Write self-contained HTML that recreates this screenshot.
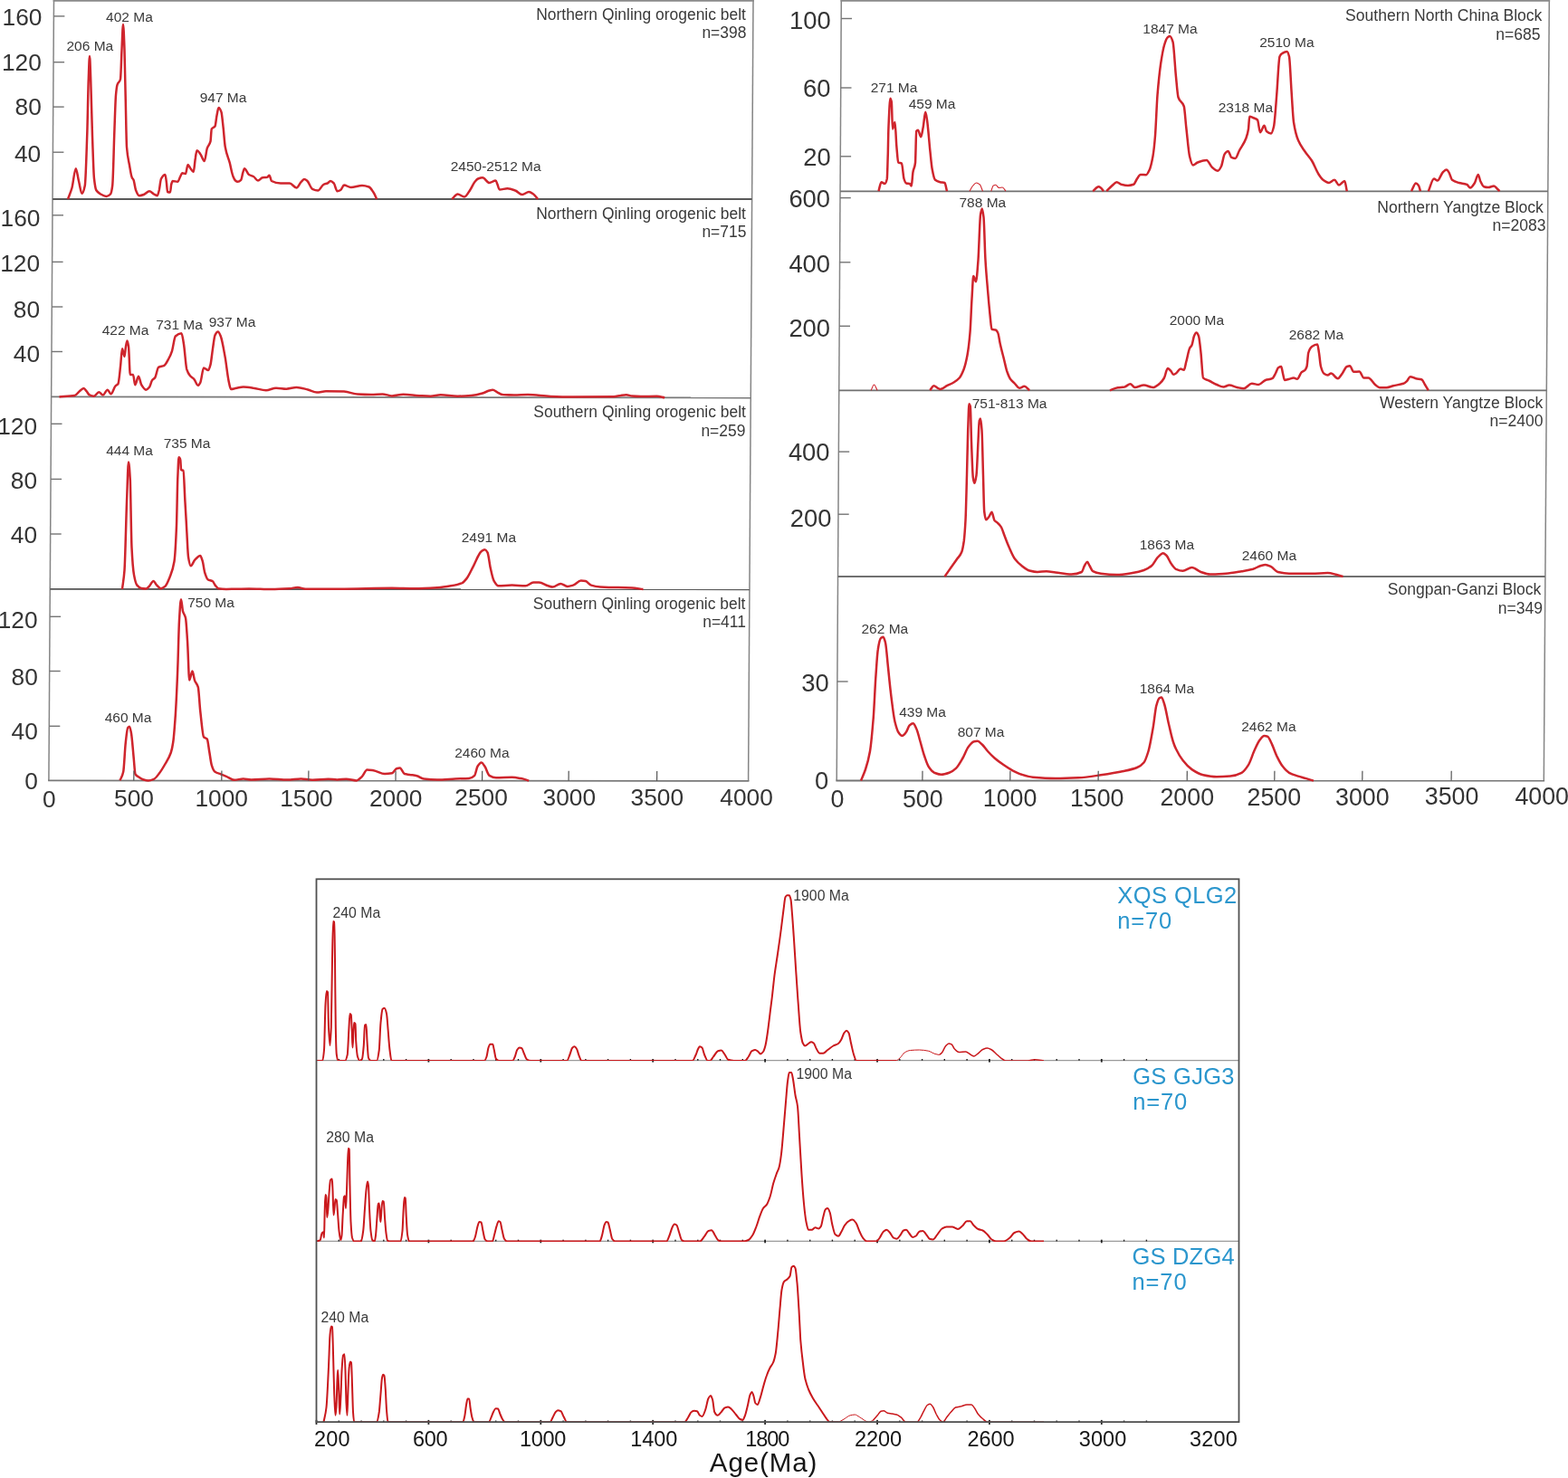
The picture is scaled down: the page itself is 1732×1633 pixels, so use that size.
<!DOCTYPE html>
<html lang="en"><head><meta charset="utf-8"><title>Detrital zircon age spectra</title>
<style>
html,body{margin:0;padding:0;background:#fff;}
svg{display:block;}
text{font-family:"Liberation Sans",sans-serif;}
.tk{fill:#343434;}
.pk{font-size:15.5px;fill:#3a3a3a;}
.tt{fill:#3a3a3a;}
.bt{font-size:23.5px;fill:#161616;}
.bl{font-size:25.5px;fill:#2b96cd;}
.ax{font-size:29.5px;fill:#161616;}
.c{fill:none;stroke-linejoin:round;stroke-linecap:butt;}
</style></head><body>
<svg width="1732" height="1633" viewBox="0 0 1732 1633">
<rect x="0" y="0" width="1732" height="1633" fill="#fff"/>
<g id="left">
<g stroke="#858585" stroke-width="1.5" fill="none">
<line x1="59.5" y1="0.0" x2="53.9" y2="862.4"/>
<line x1="832.0" y1="0.0" x2="826.6" y2="863.0"/>
</g>
<g stroke="#747474" stroke-width="1.4" fill="none">
<line x1="59.4" y1="17.9" x2="71.4" y2="17.9"/>
<line x1="59.1" y1="68.7" x2="71.1" y2="68.7"/>
<line x1="58.7" y1="118.1" x2="70.7" y2="118.1"/>
<line x1="58.4" y1="168.2" x2="70.4" y2="168.2"/>
<line x1="58.0" y1="237.8" x2="70.0" y2="237.8"/>
<line x1="57.6" y1="289.4" x2="69.6" y2="289.4"/>
<line x1="57.3" y1="339.0" x2="69.3" y2="339.0"/>
<line x1="57.0" y1="388.5" x2="69.0" y2="388.5"/>
<line x1="56.5" y1="468.3" x2="68.5" y2="468.3"/>
<line x1="56.1" y1="529.4" x2="68.1" y2="529.4"/>
<line x1="55.7" y1="590.0" x2="67.7" y2="590.0"/>
<line x1="55.1" y1="681.3" x2="67.1" y2="681.3"/>
<line x1="54.7" y1="741.5" x2="66.7" y2="741.5"/>
<line x1="54.3" y1="802.3" x2="66.3" y2="802.3"/>
</g>
<g stroke-width="1.8" fill="none">
<line x1="58.1" y1="220.00" x2="830.6" y2="220.00" stroke="#585858"/>
<line x1="56.7" y1="438.40" x2="829.3" y2="439.50" stroke="#787878"/>
<line x1="55.3" y1="650.90" x2="827.9" y2="651.25" stroke="#585858"/>
<line x1="53.1" y1="862.40" x2="827.4" y2="862.95" stroke="#787878"/>
</g>
<line x1="58.7" y1="0.8" x2="832.8" y2="0.8" stroke="#8a8a8a" stroke-width="1.8"/>
<path class="c" stroke="#cf252d" stroke-width="2.5" d="M75.0,220.0C76.5,215.8 78.0,212.9 79.5,207.5C80.9,202.4 82.3,186.2 83.8,186.2C84.8,186.2 85.9,195.6 87.0,200.0C88.2,204.8 89.3,213.8 90.5,213.8C91.6,213.8 92.7,210.4 93.8,205.0C94.6,200.9 95.4,174.6 96.2,150.0C96.8,135.2 97.2,101.1 97.8,87.5C98.2,76.2 98.6,62.0 99.0,62.0C99.4,62.0 99.8,76.8 100.2,87.5C100.8,102.4 101.4,133.3 102.0,150.0C102.7,169.1 103.3,191.4 104.0,197.5C104.8,204.3 105.5,208.7 106.2,210.0C107.9,212.8 109.6,213.6 111.2,214.5C113.3,215.7 115.4,217.0 117.5,217.0C119.0,217.0 120.5,216.1 122.0,214.5C122.8,213.7 123.5,210.6 124.2,205.0C124.9,200.0 125.6,167.7 126.2,150.0C126.8,134.5 127.4,111.7 128.0,105.0C128.5,99.3 129.0,95.3 129.5,93.8C130.7,90.1 131.8,91.8 133.0,87.5C133.5,85.6 134.0,65.0 134.5,55.0C135.0,45.0 135.5,27.0 136.0,27.0C136.5,27.0 137.0,41.5 137.5,55.0C137.9,66.2 138.3,94.7 138.8,112.5C139.2,130.3 139.6,157.2 140.0,162.5C141.0,175.2 142.0,176.8 143.0,182.5C143.9,187.7 144.8,194.3 145.8,196.2C146.3,197.5 146.9,197.5 147.5,198.8C148.3,200.5 149.2,207.9 150.0,210.0C151.2,213.1 152.5,216.2 153.8,216.2C155.4,216.2 157.1,215.6 158.8,215.0C160.8,214.3 162.9,211.2 165.0,211.2C166.7,211.2 168.3,213.6 170.0,214.5C171.2,215.2 172.5,216.2 173.8,216.2C174.4,216.2 175.1,212.7 175.8,210.0C176.5,207.0 177.2,198.9 178.0,197.5C179.5,194.7 181.0,193.0 182.5,193.0C183.0,193.0 183.5,198.6 184.0,202.5C184.3,205.1 184.7,211.9 185.0,212.0C186.0,212.4 187.0,212.5 188.0,212.5C188.4,212.5 188.8,205.5 189.2,203.8C189.7,202.0 190.1,200.0 190.5,200.0C192.4,200.0 194.3,200.8 196.2,200.8C197.2,200.8 198.2,196.9 199.2,195.0C199.9,193.7 200.6,191.2 201.2,191.2C202.5,191.2 203.8,192.0 205.0,192.0C205.8,192.0 206.7,182.0 207.5,182.0C208.5,182.0 209.5,185.0 210.5,186.2C211.6,187.6 212.7,190.0 213.8,190.0C214.4,190.0 215.1,179.0 215.8,175.0C216.3,171.5 216.9,166.2 217.5,166.2C218.8,166.2 220.0,168.4 221.2,170.0C222.8,171.9 224.2,178.0 225.8,178.0C226.8,178.0 227.8,166.6 228.8,163.8C230.0,160.2 231.2,161.0 232.5,156.2C232.9,154.7 233.3,143.2 233.8,142.5C235.0,140.3 236.2,141.4 237.5,139.5C238.2,138.5 238.8,130.8 239.5,127.5C240.2,124.2 240.8,119.0 241.5,119.0C242.5,119.0 243.5,121.0 244.5,123.8C245.2,125.8 246.0,135.7 246.8,142.5C247.4,148.6 248.1,158.8 248.8,162.5C250.4,171.8 252.1,173.8 253.8,180.0C255.0,184.7 256.2,192.0 257.5,195.0C258.3,197.0 259.2,198.8 260.0,199.5C260.8,200.2 261.7,200.8 262.5,200.8C263.8,200.8 265.0,200.0 266.2,198.8C266.9,198.1 267.6,193.4 268.2,191.2C268.8,189.4 269.4,186.2 270.0,186.2C271.7,186.2 273.3,192.0 275.0,193.0C276.7,194.0 278.3,194.1 280.0,195.0C281.7,195.9 283.3,199.5 285.0,199.5C286.7,199.5 288.3,196.5 290.0,196.2C291.7,196.0 293.3,196.1 295.0,195.8C295.8,195.6 296.7,193.8 297.5,193.8C298.3,193.8 299.2,199.5 300.0,200.0C303.3,201.8 306.7,202.5 310.0,202.5C313.3,202.5 316.7,202.5 320.0,202.5C322.5,202.5 325.0,207.5 327.5,207.5C329.2,207.5 330.8,202.9 332.5,201.2C333.8,200.0 335.0,198.0 336.2,198.0C337.3,198.0 338.4,199.1 339.5,200.0C341.3,201.6 343.2,207.9 345.0,208.8C347.1,209.8 349.2,210.5 351.2,210.5C353.3,210.5 355.4,204.7 357.5,203.8C358.9,203.1 360.3,203.1 361.8,202.5C362.8,202.0 363.9,200.0 365.0,200.0C366.2,200.0 367.5,201.2 368.8,202.5C370.0,203.8 371.2,211.2 372.5,211.2C373.8,211.2 375.0,210.7 376.2,210.0C377.5,209.3 378.8,204.5 380.0,204.5C382.5,204.5 385.0,207.0 387.5,207.0C391.7,207.0 395.8,205.0 400.0,205.0C402.5,205.0 405.0,205.6 407.5,206.5C409.2,207.1 410.8,210.0 412.5,212.5C413.8,214.4 415.0,217.5 416.2,220.0"/>
<path class="c" stroke="#cf252d" stroke-width="2.5" d="M499.2,220.0C501.3,218.2 503.4,214.5 505.5,214.5C508.0,214.5 510.5,217.5 513.0,217.5C515.1,217.5 517.2,213.0 519.2,210.0C520.9,207.6 522.6,203.3 524.2,201.2C525.5,199.7 526.8,198.0 528.0,197.5C529.7,196.8 531.3,196.2 533.0,196.2C535.5,196.2 538.0,202.0 540.5,202.0C542.8,202.0 545.2,199.5 547.5,199.5C548.2,199.5 548.8,202.2 549.5,203.8C550.2,205.5 551.0,209.5 551.8,209.5C554.7,209.5 557.6,208.2 560.5,208.2C563.4,208.2 566.3,209.4 569.2,210.5C571.8,211.4 574.2,215.0 576.8,215.0C579.2,215.0 581.8,212.0 584.2,212.0C585.9,212.0 587.6,213.4 589.2,214.5C590.9,215.6 592.6,218.2 594.2,220.0"/>
<path class="c" stroke="#cf252d" stroke-width="2.5" d="M65.5,438.4C71.2,438.0 76.8,438.0 82.5,437.1C84.2,436.9 85.8,434.0 87.5,432.6C89.2,431.3 90.8,428.9 92.5,428.9C93.5,428.9 94.5,431.0 95.5,432.2C96.6,433.4 97.7,435.9 98.8,436.4C100.4,437.1 102.1,437.7 103.8,437.7C105.6,437.7 107.4,433.2 109.2,433.2C110.8,433.2 112.2,436.4 113.8,436.4C115.4,436.4 117.1,430.7 118.8,430.7C120.0,430.7 121.2,435.2 122.5,435.2C124.2,435.2 125.8,428.3 127.5,426.5C128.5,425.4 129.5,425.5 130.5,424.0C131.3,422.7 132.2,412.4 133.0,405.2C133.7,399.5 134.3,385.2 135.0,385.2C135.8,385.2 136.7,394.0 137.5,394.0C138.0,394.0 138.5,385.4 139.0,382.7C139.5,380.0 140.0,376.5 140.5,376.5C141.0,376.5 141.5,379.4 142.0,382.7C142.6,386.6 143.2,414.0 143.8,414.0C144.8,414.0 145.9,414.0 147.0,414.0C147.8,414.0 148.5,425.2 149.2,425.2C150.5,425.2 151.8,415.7 153.0,415.7C154.1,415.7 155.2,423.5 156.2,425.2C157.9,428.0 159.6,430.7 161.2,430.7C162.5,430.7 163.8,429.3 165.0,427.8C166.0,426.5 167.0,421.6 168.0,420.3C169.1,418.8 170.2,418.8 171.2,417.3C172.5,415.5 173.8,406.5 175.0,405.8C177.1,404.6 179.2,405.0 181.2,404.0C182.9,403.2 184.6,399.6 186.2,396.5C187.5,394.2 188.8,391.6 190.0,387.8C191.2,384.0 192.5,372.7 193.8,371.5C196.0,369.4 198.2,368.3 200.5,368.3C201.3,368.3 202.2,375.3 203.0,380.3C204.1,386.9 205.2,404.3 206.2,407.8C207.5,411.9 208.8,413.8 210.0,415.3C211.5,417.1 213.0,417.4 214.5,419.1C215.9,420.6 217.3,425.8 218.8,425.8C219.6,425.8 220.4,424.3 221.2,422.8C222.5,420.6 223.8,406.6 225.0,406.6C226.7,406.6 228.3,409.1 230.0,409.1C230.8,409.1 231.7,405.9 232.5,402.9C233.3,399.8 234.2,390.7 235.0,385.4C235.8,380.0 236.7,372.0 237.5,370.4C238.6,368.2 239.7,366.6 240.8,366.6C241.8,366.6 242.8,369.2 243.8,371.6C245.4,375.6 247.1,386.1 248.8,395.4C250.0,402.4 251.2,414.4 252.5,420.4C253.3,424.3 254.2,429.9 255.0,429.9C256.7,429.9 258.3,429.4 260.0,429.1C262.9,428.7 265.8,427.4 268.8,427.4C272.5,427.4 276.2,428.1 280.0,428.7C284.6,429.3 289.2,431.2 293.8,431.2C297.5,431.2 301.2,428.7 305.0,428.7C308.8,428.7 312.5,429.7 316.2,429.7C320.0,429.7 323.8,428.0 327.5,428.0C331.7,428.0 335.8,429.5 340.0,430.5C343.3,431.3 346.7,433.5 350.0,433.5C353.3,433.5 356.7,432.3 360.0,432.3C366.7,432.3 373.3,432.4 380.0,432.6C385.0,432.7 390.0,435.3 395.0,435.6C400.0,435.9 405.0,436.1 410.0,436.1C414.2,436.1 418.3,435.4 422.5,435.4C426.0,435.4 429.5,437.4 433.0,437.4C437.2,437.4 441.3,435.7 445.5,435.7C451.3,435.7 457.2,436.9 463.0,437.2C467.2,437.4 471.3,437.7 475.5,437.7C479.2,437.7 483.0,436.2 486.8,436.2C493.0,436.2 499.2,437.7 505.5,437.7C510.5,437.7 515.5,437.4 520.5,437.0C524.7,436.7 528.8,435.7 533.0,434.5C535.5,433.8 538.0,432.2 540.5,431.5C541.8,431.2 543.0,430.8 544.2,430.8C545.9,430.8 547.6,432.5 549.2,433.3C551.3,434.3 553.4,435.9 555.5,436.1C559.7,436.4 563.8,436.6 568.0,436.6C573.0,436.6 578.0,436.1 583.0,436.1C591.3,436.1 599.7,437.6 608.0,437.9C616.3,438.2 624.7,438.4 633.0,438.4C648.0,438.4 663.0,438.4 678.0,438.2C680.5,438.2 683.0,437.3 685.5,437.0C687.6,436.7 689.7,436.3 691.8,436.3C693.8,436.3 695.9,437.3 698.0,437.5C701.3,437.8 704.7,438.0 708.0,438.0C713.8,438.0 719.7,437.8 725.5,437.8C728.4,437.8 731.3,438.8 734.2,439.3"/>
<path class="c" stroke="#cf252d" stroke-width="2.5" d="M135.0,650.9C135.8,644.0 136.7,641.0 137.5,630.1C138.3,619.3 139.2,576.3 140.0,555.1C140.7,538.2 141.3,510.6 142.0,510.6C142.6,510.6 143.2,519.8 143.8,530.1C144.3,540.5 144.9,593.8 145.5,605.1C146.3,621.3 147.2,630.6 148.0,635.1C149.1,641.1 150.2,645.0 151.2,646.4C152.9,648.5 154.6,649.9 156.2,650.1C157.9,650.4 159.6,650.6 161.2,650.6C162.5,650.6 163.8,648.9 165.0,647.6C166.5,646.2 168.0,641.9 169.5,641.9C170.7,641.9 171.8,645.2 173.0,646.4C174.5,647.9 176.0,650.2 177.5,650.2C179.2,650.2 180.8,649.0 182.5,647.7C184.2,646.3 185.8,641.9 187.5,637.7C189.2,633.4 190.8,630.5 192.5,620.2C193.3,615.0 194.2,600.2 195.0,580.2C195.4,570.2 195.8,541.3 196.2,530.2C196.7,519.1 197.1,505.2 197.5,505.2C198.1,505.2 198.7,506.0 199.2,507.7C199.5,508.4 199.8,518.6 200.0,518.9C200.8,519.9 201.7,519.3 202.5,520.2C203.2,520.8 203.8,543.6 204.5,555.2C205.1,565.3 205.7,575.2 206.2,585.2C206.8,595.2 207.4,611.5 208.0,615.2C208.9,620.9 209.8,625.2 210.8,625.2C212.2,625.2 213.6,620.4 215.0,618.9C217.1,616.7 219.2,613.9 221.2,613.9C222.1,613.9 222.9,617.4 223.8,620.2C224.6,623.0 225.4,630.0 226.2,632.7C227.3,636.2 228.4,639.5 229.5,640.2C231.3,641.4 233.2,641.0 235.0,642.2C235.8,642.7 236.7,645.4 237.5,646.4C238.8,648.0 240.0,650.0 241.2,650.2C244.2,650.7 247.1,650.9 250.0,650.9C258.3,650.9 266.7,650.4 275.0,650.4C283.3,650.4 291.7,651.0 300.0,651.0C306.7,651.0 313.3,650.6 320.0,650.2C322.9,650.0 325.8,649.0 328.8,649.0C331.7,649.0 334.6,650.7 337.5,650.7C350.0,650.7 362.5,650.7 375.0,650.7C394.3,650.7 413.7,649.8 433.0,649.8C441.3,649.8 449.7,650.3 458.0,650.3C466.3,650.3 474.7,649.8 483.0,649.3C488.0,649.0 493.0,648.2 498.0,647.3C502.2,646.6 506.3,645.9 510.5,644.1C512.2,643.3 513.8,641.2 515.5,639.1C518.0,635.9 520.5,629.9 523.0,625.3C525.9,619.9 528.8,611.1 531.8,609.1C533.0,608.2 534.2,607.3 535.5,607.3C536.5,607.3 537.5,608.6 538.5,610.3C539.6,612.1 540.7,623.1 541.8,627.8C543.0,633.3 544.2,639.3 545.5,641.6C547.2,644.6 548.8,647.3 550.5,647.3C555.5,647.3 560.5,646.6 565.5,646.6C570.5,646.6 575.5,647.3 580.5,647.3C583.4,647.3 586.3,643.6 589.2,643.6C591.3,643.6 593.4,643.6 595.5,643.6C598.8,643.6 602.2,646.4 605.5,647.3C607.2,647.8 608.8,648.6 610.5,648.6C613.4,648.6 616.3,644.9 619.2,644.9C621.8,644.9 624.2,647.9 626.8,647.9C628.8,647.9 630.9,647.2 633.0,646.6C635.9,645.8 638.8,641.6 641.8,641.6C643.4,641.6 645.1,641.8 646.8,642.1C648.8,642.5 650.9,646.0 653.0,646.6C656.3,647.6 659.7,648.2 663.0,648.4C669.7,648.8 676.3,649.0 683.0,649.1C688.0,649.3 693.0,649.2 698.0,649.4C702.2,649.5 706.3,650.6 710.5,651.1"/>
<path class="c" stroke="#cf252d" stroke-width="2.5" d="M132.5,862.3C133.8,859.1 135.0,858.3 136.2,852.8C137.1,849.1 137.9,827.5 138.8,820.3C139.6,813.0 140.4,805.0 141.2,804.0C141.8,803.3 142.4,802.8 143.0,802.8C143.7,802.8 144.3,806.7 145.0,810.3C145.8,814.7 146.7,826.9 147.5,835.3C148.2,841.9 148.8,854.1 149.5,855.3C150.7,857.3 151.8,857.5 153.0,858.3C154.9,859.6 156.8,861.0 158.8,861.5C160.4,862.0 162.1,862.5 163.8,862.5C165.8,862.5 167.9,861.7 170.0,860.8C172.1,859.9 174.2,856.7 176.2,854.0C178.3,851.4 180.4,847.7 182.5,844.0C184.6,840.3 186.7,837.6 188.8,831.5C189.6,829.1 190.4,825.8 191.2,820.3C192.1,814.8 192.9,802.8 193.8,790.3C194.6,777.8 195.4,760.9 196.2,740.3C196.8,725.9 197.4,695.2 198.0,685.3C198.7,674.0 199.3,662.3 200.0,662.3C200.7,662.3 201.3,672.8 202.0,675.3C203.0,679.0 204.0,678.4 205.0,682.8C205.7,685.7 206.3,697.7 207.0,707.8C207.8,719.2 208.5,751.6 209.2,751.6C210.3,751.6 211.4,741.6 212.5,741.6C213.3,741.6 214.2,749.3 215.0,751.6C216.2,755.0 217.5,754.7 218.8,759.1C219.6,762.0 220.4,777.9 221.2,785.3C222.5,796.5 223.8,812.5 225.0,814.1C226.2,815.6 227.5,815.0 228.8,816.6C229.6,817.6 230.4,825.5 231.2,830.3C232.1,835.1 232.9,842.7 233.8,845.3C235.0,849.2 236.2,851.9 237.5,852.8C239.6,854.3 241.7,854.5 243.8,855.3C245.8,856.2 247.9,857.0 250.0,857.8C252.9,859.1 255.8,861.8 258.8,861.8C262.1,861.8 265.4,860.4 268.8,860.4C271.7,860.4 274.6,861.4 277.5,861.4C284.2,861.4 290.8,860.4 297.5,860.4C304.2,860.4 310.8,861.6 317.5,861.6C322.5,861.6 327.5,860.4 332.5,860.4C336.7,860.4 340.8,861.7 345.0,861.7C350.8,861.7 356.7,860.7 362.5,860.7C365.8,860.7 369.2,861.4 372.5,861.4C375.8,861.4 379.2,860.7 382.5,860.7C386.2,860.7 390.0,862.4 393.8,862.4C395.8,862.4 397.9,859.9 400.0,857.9C401.8,856.2 403.7,850.5 405.5,850.5C407.8,850.5 410.2,850.9 412.5,851.2C416.7,851.8 420.8,855.0 425.0,855.0C427.7,855.0 430.3,854.7 433.0,854.2C434.7,853.9 436.3,849.8 438.0,849.2C439.2,848.8 440.5,848.5 441.8,848.5C443.4,848.5 445.1,854.5 446.8,855.0C448.8,855.6 450.9,855.6 453.0,856.0C455.5,856.4 458.0,856.6 460.5,857.2C463.0,857.8 465.5,860.2 468.0,860.5C473.0,861.1 478.0,861.5 483.0,861.5C489.7,861.5 496.3,860.8 503.0,860.5C508.0,860.3 513.0,860.4 518.0,860.0C520.1,859.9 522.2,858.8 524.2,856.8C525.3,855.7 526.4,848.5 527.5,846.8C528.9,844.6 530.3,842.5 531.8,842.5C533.0,842.5 534.2,845.0 535.5,846.8C537.2,849.2 538.8,855.8 540.5,856.8C543.0,858.3 545.5,859.3 548.0,859.3C553.8,859.3 559.7,858.8 565.5,858.8C568.8,858.8 572.2,859.5 575.5,860.1C578.4,860.6 581.3,861.7 584.2,862.6"/>
<g stroke="#555555" stroke-width="1.2" fill="none">
<line x1="147.8" y1="862.5" x2="147.9" y2="851.5"/>
<line x1="244.8" y1="862.5" x2="244.9" y2="851.5"/>
<line x1="340.8" y1="862.6" x2="340.9" y2="851.6"/>
<line x1="437.0" y1="862.7" x2="437.1" y2="851.7"/>
<line x1="532.6" y1="862.7" x2="532.7" y2="851.7"/>
<line x1="628.1" y1="862.8" x2="628.2" y2="851.8"/>
<line x1="725.6" y1="862.9" x2="725.7" y2="851.9"/>
</g>
<g class="tk" text-anchor="end" font-size="26.3">
<text x="46.5" y="28.2">160</text>
<text x="45.8" y="78.4">120</text>
<text x="45.8" y="127.3">80</text>
<text x="45.2" y="179.2">40</text>
<text x="44.5" y="249.9">160</text>
<text x="44.1" y="299.8">120</text>
<text x="44.1" y="350.6">80</text>
<text x="44.1" y="399.8">40</text>
<text x="41.1" y="479.5">120</text>
<text x="41.1" y="540.0">80</text>
<text x="41.1" y="600.1">40</text>
<text x="41.6" y="694.0">120</text>
<text x="41.8" y="757.3">80</text>
<text x="41.8" y="817.3">40</text>
<text x="41.8" y="871.5">0</text>
</g>
<g class="tk" text-anchor="end" font-size="26.3">
<text x="61.7" y="891.5">0</text>
<text x="169.9" y="891.3">500</text>
<text x="273.9" y="891.1">1000</text>
<text x="367.7" y="890.8">1500</text>
<text x="466.4" y="890.6">2000</text>
<text x="560.8" y="890.4">2500</text>
<text x="658.1" y="890.1">3000</text>
<text x="755.1" y="889.9">3500</text>
<text x="853.8" y="889.7">4000</text>
</g>
<g class="pk">
<text x="117.1" y="23.7">402 Ma</text>
<text x="73.5" y="55.5">206 Ma</text>
<text x="220.7" y="112.7">947 Ma</text>
<text x="497.7" y="188.7">2450-2512 Ma</text>
<text x="112.7" y="369.7">422 Ma</text>
<text x="172.2" y="363.5">731 Ma</text>
<text x="230.7" y="360.7">937 Ma</text>
<text x="117.2" y="502.7">444 Ma</text>
<text x="180.7" y="494.7">735 Ma</text>
<text x="509.7" y="599.2">2491 Ma</text>
<text x="207.2" y="671.0">750 Ma</text>
<text x="115.7" y="798.0">460 Ma</text>
<text x="502.2" y="837.2">2460 Ma</text>
</g>
<g class="tt" text-anchor="end" font-size="17.45">
<text x="823.9" y="22.2">Northern Qinling orogenic belt</text>
<text x="824.4" y="41.7">n=398</text>
<text x="823.9" y="242.4">Northern Qinling orogenic belt</text>
<text x="824.4" y="262.2">n=715</text>
<text x="823.9" y="461.4">Southern Qinling orogenic belt</text>
<text x="823.4" y="482.2">n=259</text>
<text x="823.4" y="672.9">Southern Qinling orogenic belt</text>
<text x="823.9" y="692.9">n=411</text>
</g>
</g>
<g id="right">
<g stroke="#858585" stroke-width="1.5" fill="none">
<line x1="929.3" y1="0.0" x2="924.2" y2="862.5"/>
<line x1="1711.3" y1="0.0" x2="1705.3" y2="862.6"/>
</g>
<g stroke="#747474" stroke-width="1.4" fill="none">
<line x1="929.2" y1="20.5" x2="941.0" y2="20.5"/>
<line x1="928.7" y1="97.0" x2="940.5" y2="97.0"/>
<line x1="928.3" y1="172.8" x2="940.1" y2="172.8"/>
<line x1="928.0" y1="218.6" x2="939.8" y2="218.6"/>
<line x1="927.6" y1="289.8" x2="939.4" y2="289.8"/>
<line x1="927.2" y1="360.3" x2="939.0" y2="360.3"/>
<line x1="926.4" y1="499.1" x2="938.2" y2="499.1"/>
<line x1="925.9" y1="568.2" x2="937.7" y2="568.2"/>
<line x1="924.8" y1="753.0" x2="936.6" y2="753.0"/>
</g>
<g stroke-width="1.8" fill="none">
<line x1="928.1" y1="211.30" x2="1709.8" y2="211.30" stroke="#707070"/>
<line x1="926.8" y1="431.30" x2="1708.3" y2="431.30" stroke="#707070"/>
<line x1="925.5" y1="637.00" x2="1706.9" y2="637.00" stroke="#707070"/>
<line x1="923.4" y1="862.50" x2="1706.1" y2="862.60" stroke="#747474"/>
</g>
<line x1="928.5" y1="0.8" x2="1712.1" y2="0.8" stroke="#8a8a8a" stroke-width="1.8"/>
<path class="c" stroke="#cf252d" stroke-width="2.5" d="M970.5,211.2C971.5,207.9 972.5,201.2 973.5,201.2C974.8,201.2 976.0,203.0 977.2,203.0C978.1,203.0 978.9,201.4 979.8,197.5C980.1,196.0 980.4,181.0 980.8,170.0C981.0,161.8 981.2,146.0 981.5,140.0C982.2,124.0 982.8,108.8 983.5,108.8C983.9,108.8 984.3,110.3 984.8,112.5C985.2,114.7 985.6,142.5 986.0,142.5C986.8,142.5 987.7,135.0 988.5,135.0C989.1,135.0 989.7,153.2 990.2,160.0C990.9,167.8 991.6,179.1 992.2,179.5C993.5,180.2 994.8,179.8 996.0,180.5C996.8,181.0 997.7,194.9 998.5,197.5C999.3,200.1 1000.2,202.3 1001.0,202.5C1002.2,202.8 1003.5,202.7 1004.8,203.0C1005.4,203.2 1006.1,205.5 1006.8,205.5C1007.3,205.5 1007.9,193.3 1008.5,190.0C1009.3,185.3 1010.2,186.4 1011.0,180.0C1011.4,176.8 1011.8,145.6 1012.2,145.0C1012.8,144.1 1013.4,143.8 1014.0,143.8C1015.1,143.8 1016.2,151.2 1017.2,151.2C1018.1,151.2 1018.9,144.4 1019.8,140.0C1020.6,135.6 1021.4,123.8 1022.2,123.8C1022.8,123.8 1023.4,128.7 1024.0,132.5C1025.1,139.5 1026.2,154.8 1027.2,165.0C1028.1,172.9 1028.9,183.3 1029.8,187.5C1030.8,193.0 1031.9,197.8 1033.0,198.8C1034.8,200.3 1036.7,200.8 1038.5,201.2C1040.2,201.6 1041.8,201.5 1043.5,202.0C1044.3,202.3 1045.2,208.2 1046.0,211.2"/>
<path class="c" stroke="#cf252d" stroke-width="1.1" d="M1071.0,211.2C1072.2,209.2 1073.5,206.4 1074.8,205.0C1076.0,203.6 1077.2,202.0 1078.5,202.0C1079.8,202.0 1081.0,202.8 1082.2,203.8C1083.3,204.6 1084.4,208.8 1085.5,211.2"/>
<path class="c" stroke="#cf252d" stroke-width="1.1" d="M1094.8,211.2C1095.6,209.2 1096.4,205.4 1097.2,205.0C1098.1,204.6 1098.9,204.2 1099.8,204.2C1101.0,204.2 1102.2,207.5 1103.5,207.5C1104.8,207.5 1106.0,207.0 1107.2,207.0C1108.5,207.0 1109.8,209.8 1111.0,211.2"/>
<path class="c" stroke="#cf252d" stroke-width="2.5" d="M1207.2,211.2C1209.3,209.6 1211.4,206.2 1213.5,206.2C1214.3,206.2 1215.2,206.9 1216.0,207.5C1217.0,208.2 1218.0,210.0 1219.0,211.2"/>
<path class="c" stroke="#cf252d" stroke-width="2.5" d="M1222.2,211.2C1224.3,209.2 1226.4,206.8 1228.5,205.0C1230.2,203.6 1231.8,201.2 1233.5,201.2C1235.2,201.2 1236.8,203.3 1238.5,203.8C1241.0,204.4 1243.5,205.0 1246.0,205.0C1248.1,205.0 1250.2,204.5 1252.2,203.8C1253.5,203.3 1254.8,199.2 1256.0,197.5C1257.2,195.8 1258.5,193.0 1259.8,193.0C1261.8,193.0 1263.9,193.2 1266.0,193.2C1267.2,193.2 1268.5,190.3 1269.8,187.5C1271.0,184.7 1272.2,179.6 1273.5,172.5C1274.3,167.8 1275.2,160.0 1276.0,150.0C1276.8,140.0 1277.7,115.5 1278.5,105.0C1279.8,89.3 1281.0,78.5 1282.2,70.0C1283.5,61.5 1284.8,54.1 1286.0,50.0C1287.2,45.9 1288.5,42.2 1289.8,41.2C1290.6,40.6 1291.4,40.0 1292.2,40.0C1293.3,40.0 1294.4,42.7 1295.5,46.2C1296.7,50.0 1297.8,73.5 1299.0,85.0C1299.8,93.2 1300.7,105.0 1301.5,107.5C1303.6,113.8 1305.7,111.2 1307.8,117.5C1308.6,120.0 1309.4,132.6 1310.2,140.0C1311.5,151.1 1312.8,167.4 1314.0,172.5C1315.2,177.6 1316.5,182.5 1317.8,182.5C1319.4,182.5 1321.1,180.1 1322.8,179.5C1326.1,178.3 1329.4,177.0 1332.8,177.0C1334.8,177.0 1336.9,183.3 1339.0,185.0C1341.1,186.7 1343.2,188.8 1345.2,188.8C1346.5,188.8 1347.8,186.2 1349.0,183.8C1350.2,181.3 1351.5,171.6 1352.8,170.0C1354.0,168.4 1355.2,167.0 1356.5,167.0C1357.8,167.0 1359.0,173.1 1360.2,173.8C1361.7,174.5 1363.1,175.0 1364.5,175.0C1366.0,175.0 1367.5,169.1 1369.0,166.2C1371.5,161.5 1374.0,159.2 1376.5,152.5C1377.3,150.3 1378.2,147.7 1379.0,142.5C1379.4,139.9 1379.8,128.8 1380.2,128.8C1381.5,128.8 1382.8,129.5 1384.0,130.0C1385.7,130.7 1387.3,130.9 1389.0,132.5C1390.0,133.5 1391.0,146.2 1392.0,146.2C1393.5,146.2 1395.0,138.8 1396.5,138.8C1397.3,138.8 1398.2,144.2 1399.0,145.0C1400.7,146.5 1402.3,147.5 1404.0,147.5C1405.0,147.5 1406.0,144.0 1407.0,140.0C1408.1,135.6 1409.2,117.8 1410.2,105.0C1411.3,92.2 1412.4,64.9 1413.5,62.5C1414.5,60.2 1415.5,59.3 1416.5,58.8C1418.2,57.8 1419.8,57.0 1421.5,57.0C1422.3,57.0 1423.2,59.3 1424.0,62.5C1424.8,65.7 1425.7,87.9 1426.5,100.0C1427.3,112.1 1428.2,129.5 1429.0,135.0C1430.7,146.1 1432.3,151.0 1434.0,155.0C1436.5,161.0 1439.0,163.8 1441.5,167.5C1444.0,171.2 1446.5,173.5 1449.0,177.5C1451.5,181.5 1454.0,188.7 1456.5,192.5C1458.2,195.0 1459.8,197.5 1461.5,198.8C1463.6,200.3 1465.7,202.0 1467.8,202.0C1469.8,202.0 1471.9,198.8 1474.0,198.8C1475.7,198.8 1477.3,204.5 1479.0,204.5C1481.1,204.5 1483.2,200.0 1485.2,200.0C1486.1,200.0 1486.9,207.5 1487.8,211.2"/>
<path class="c" stroke="#cf252d" stroke-width="2.5" d="M1559.0,211.2C1560.7,208.3 1562.3,202.5 1564.0,202.5C1565.0,202.5 1566.0,203.6 1567.0,205.0C1567.7,205.9 1568.3,209.2 1569.0,211.2"/>
<path class="c" stroke="#cf252d" stroke-width="2.5" d="M1577.8,211.2C1579.8,206.7 1581.9,197.5 1584.0,197.5C1585.2,197.5 1586.5,199.5 1587.8,199.5C1589.8,199.5 1591.9,191.9 1594.0,190.0C1595.2,188.9 1596.5,187.5 1597.8,187.5C1598.6,187.5 1599.4,188.9 1600.2,190.0C1601.5,191.7 1602.8,197.8 1604.0,198.8C1606.5,200.7 1609.0,201.3 1611.5,202.0C1614.4,202.8 1617.3,202.7 1620.2,203.8C1621.5,204.2 1622.8,207.5 1624.0,207.5C1625.7,207.5 1627.3,204.6 1629.0,202.0C1630.2,200.1 1631.5,193.0 1632.8,193.0C1633.6,193.0 1634.4,198.2 1635.2,200.0C1636.5,202.7 1637.8,205.9 1639.0,206.2C1640.7,206.7 1642.3,207.0 1644.0,207.0C1646.1,207.0 1648.2,205.5 1650.2,205.5C1651.5,205.5 1652.8,207.6 1654.0,208.8C1654.8,209.5 1655.7,210.4 1656.5,211.2"/>
<path class="c" stroke="#cf252d" stroke-width="1.1" d="M962.2,431.2C963.3,429.2 964.4,425.0 965.5,425.0C966.7,425.0 967.8,429.2 969.0,431.2"/>
<path class="c" stroke="#cf252d" stroke-width="2.5" d="M1027.2,431.2C1028.7,429.6 1030.1,426.2 1031.5,426.2C1033.0,426.2 1034.5,428.0 1036.0,428.8C1036.8,429.2 1037.7,430.0 1038.5,430.0C1041.0,430.0 1043.5,427.5 1046.0,426.2C1048.5,425.0 1051.0,424.0 1053.5,422.5C1055.6,421.2 1057.7,419.9 1059.8,417.5C1061.4,415.6 1063.1,412.0 1064.8,407.5C1066.0,404.1 1067.2,399.3 1068.5,392.5C1069.5,387.0 1070.5,379.3 1071.5,367.5C1072.2,359.6 1072.8,340.8 1073.5,330.0C1074.1,320.6 1074.7,305.0 1075.2,305.0C1076.2,305.0 1077.1,311.2 1078.0,311.2C1078.8,311.2 1079.7,298.2 1080.5,287.5C1081.3,276.8 1082.2,242.8 1083.0,237.5C1083.6,233.8 1084.2,230.5 1084.8,230.5C1085.3,230.5 1085.9,234.9 1086.5,240.0C1087.2,245.8 1087.8,276.2 1088.5,287.5C1089.3,301.7 1090.2,310.1 1091.0,320.0C1091.8,329.9 1092.7,339.8 1093.5,347.5C1094.2,353.7 1094.8,363.5 1095.5,363.8C1096.9,364.3 1098.3,364.0 1099.8,364.5C1100.6,364.8 1101.4,365.9 1102.2,367.5C1103.1,369.1 1103.9,376.3 1104.8,380.0C1106.0,385.6 1107.2,390.0 1108.5,395.0C1109.8,400.0 1111.0,406.3 1112.2,410.0C1113.5,413.7 1114.8,417.0 1116.0,418.8C1117.7,421.1 1119.3,422.1 1121.0,423.8C1122.7,425.4 1124.3,428.8 1126.0,428.8C1127.8,428.8 1129.7,426.8 1131.5,426.8C1133.4,426.8 1135.3,429.8 1137.2,431.2"/>
<path class="c" stroke="#cf252d" stroke-width="2.5" d="M1226.0,431.2C1228.9,430.2 1231.8,428.7 1234.8,428.2C1237.2,427.9 1239.8,427.9 1242.2,427.5C1244.3,427.1 1246.4,424.2 1248.5,424.2C1250.2,424.2 1251.8,428.0 1253.5,428.0C1256.8,428.0 1260.2,425.5 1263.5,425.5C1266.8,425.5 1270.2,428.0 1273.5,428.0C1276.0,428.0 1278.5,425.7 1281.0,423.8C1282.7,422.4 1284.3,420.4 1286.0,417.5C1287.2,415.3 1288.5,407.0 1289.8,407.0C1291.0,407.0 1292.2,408.7 1293.5,410.0C1294.3,410.9 1295.2,413.8 1296.0,413.8C1297.0,413.8 1298.0,413.1 1299.0,412.5C1300.7,411.6 1302.3,407.5 1304.0,407.5C1305.2,407.5 1306.5,408.8 1307.8,408.8C1308.6,408.8 1309.4,403.1 1310.2,400.0C1311.5,395.4 1312.8,387.6 1314.0,385.0C1314.8,383.2 1315.7,383.1 1316.5,381.2C1317.3,379.4 1318.2,373.1 1319.0,371.2C1319.8,369.4 1320.7,367.5 1321.5,367.5C1322.3,367.5 1323.2,369.2 1324.0,371.2C1324.8,373.3 1325.7,382.6 1326.5,390.0C1327.3,397.4 1328.2,416.6 1329.0,417.5C1331.1,419.7 1333.2,419.5 1335.2,420.5C1338.2,421.9 1341.1,423.8 1344.0,425.0C1346.5,426.0 1349.0,427.5 1351.5,427.5C1353.6,427.5 1355.7,425.5 1357.8,425.5C1360.7,425.5 1363.6,427.4 1366.5,428.0C1369.0,428.5 1371.5,429.2 1374.0,429.2C1376.9,429.2 1379.8,423.8 1382.8,423.8C1385.2,423.8 1387.8,425.0 1390.2,425.0C1392.8,425.0 1395.2,420.9 1397.8,420.0C1400.2,419.1 1402.8,419.4 1405.2,418.2C1406.5,417.7 1407.8,414.7 1409.0,412.5C1410.0,410.7 1411.0,406.9 1412.0,406.2C1413.1,405.5 1414.2,405.0 1415.2,405.0C1415.8,405.0 1416.4,410.2 1417.0,412.5C1417.7,415.2 1418.3,420.0 1419.0,420.0C1420.7,420.0 1422.3,419.2 1424.0,418.8C1425.7,418.3 1427.3,417.5 1429.0,417.5C1430.2,417.5 1431.5,418.8 1432.8,418.8C1434.4,418.8 1436.1,412.8 1437.8,411.2C1439.0,410.1 1440.2,410.0 1441.5,408.8C1442.2,408.1 1442.8,407.1 1443.5,405.0C1444.1,403.2 1444.7,391.9 1445.2,390.0C1446.5,385.8 1447.8,383.9 1449.0,383.0C1451.1,381.5 1453.2,380.5 1455.2,380.5C1455.8,380.5 1456.4,386.3 1457.0,390.0C1457.7,394.2 1458.3,402.7 1459.0,405.0C1460.2,409.4 1461.5,412.2 1462.8,413.0C1464.0,413.8 1465.2,414.5 1466.5,414.5C1467.8,414.5 1469.0,412.5 1470.2,412.5C1472.8,412.5 1475.2,418.2 1477.8,418.2C1479.4,418.2 1481.1,414.7 1482.8,412.5C1484.4,410.3 1486.1,405.6 1487.8,405.0C1488.8,404.6 1489.9,404.2 1491.0,404.2C1492.4,404.2 1493.8,410.8 1495.2,410.8C1497.3,410.8 1499.4,410.5 1501.5,410.5C1503.2,410.5 1504.8,417.5 1506.5,417.5C1508.2,417.5 1509.8,417.5 1511.5,417.5C1514.0,417.5 1516.5,423.1 1519.0,425.0C1520.7,426.3 1522.3,428.2 1524.0,428.2C1526.5,428.2 1529.0,428.2 1531.5,428.2C1534.0,428.2 1536.5,426.9 1539.0,426.2C1542.8,425.3 1546.5,425.1 1550.2,423.8C1551.5,423.3 1552.8,422.4 1554.0,421.2C1555.2,420.1 1556.5,416.2 1557.8,416.2C1559.8,416.2 1561.9,417.8 1564.0,418.2C1566.1,418.7 1568.2,418.6 1570.2,419.2C1571.5,419.6 1572.8,423.0 1574.0,425.0C1575.2,427.0 1576.5,429.2 1577.8,431.2"/>
<path class="c" stroke="#cf252d" stroke-width="2.5" d="M1043.5,637.0C1046.0,633.4 1048.5,629.8 1051.0,626.2C1053.1,623.3 1055.2,620.5 1057.2,617.5C1058.9,615.1 1060.6,614.1 1062.2,610.0C1063.1,608.0 1063.9,603.7 1064.8,597.5C1065.3,593.2 1065.9,585.9 1066.5,575.0C1067.0,565.6 1067.5,543.2 1068.0,525.0C1068.4,509.8 1068.8,487.2 1069.2,475.0C1069.7,462.8 1070.1,446.2 1070.5,446.2C1070.9,446.2 1071.3,447.2 1071.8,448.8C1072.2,450.3 1072.6,476.4 1073.0,487.5C1073.6,503.0 1074.2,523.9 1074.8,527.5C1075.3,531.1 1075.9,533.8 1076.5,533.8C1077.2,533.8 1077.8,529.7 1078.5,525.0C1079.2,520.3 1079.8,499.7 1080.5,487.5C1080.9,479.9 1081.3,466.5 1081.8,465.0C1082.2,463.5 1082.6,462.5 1083.0,462.5C1083.5,462.5 1084.0,468.3 1084.5,475.0C1085.0,481.7 1085.5,508.7 1086.0,525.0C1086.4,538.6 1086.8,561.4 1087.2,565.0C1087.9,570.7 1088.6,574.2 1089.2,574.2C1090.2,574.2 1091.2,572.5 1092.2,571.2C1093.3,569.9 1094.4,565.8 1095.5,565.8C1096.5,565.8 1097.5,573.7 1098.5,575.0C1099.8,576.6 1101.0,576.8 1102.2,578.0C1103.5,579.2 1104.8,580.4 1106.0,582.5C1107.2,584.6 1108.5,589.3 1109.8,592.5C1111.4,596.8 1113.1,601.3 1114.8,605.0C1116.8,609.6 1118.9,614.7 1121.0,617.5C1123.5,620.9 1126.0,623.1 1128.5,625.0C1131.4,627.3 1134.3,629.7 1137.2,630.5C1140.2,631.3 1143.1,632.0 1146.0,632.0C1149.3,632.0 1152.7,631.2 1156.0,631.2C1159.3,631.2 1162.7,632.1 1166.0,632.5C1171.8,633.2 1177.7,634.5 1183.5,634.5C1187.2,634.5 1191.0,633.8 1194.8,632.0C1195.8,631.5 1196.9,626.8 1198.0,625.0C1199.0,623.3 1200.0,620.8 1201.0,620.8C1201.8,620.8 1202.7,623.6 1203.5,625.0C1204.8,627.1 1206.0,630.6 1207.2,631.2C1210.2,632.8 1213.1,633.4 1216.0,633.8C1221.8,634.5 1227.7,635.0 1233.5,635.0C1239.3,635.0 1245.2,633.9 1251.0,633.0C1255.2,632.3 1259.3,631.4 1263.5,630.0C1266.4,629.0 1269.3,627.4 1272.2,625.0C1274.3,623.3 1276.4,618.4 1278.5,616.2C1280.6,614.1 1282.7,611.2 1284.8,611.2C1286.0,611.2 1287.2,612.6 1288.5,613.8C1290.2,615.3 1291.8,620.2 1293.5,622.5C1295.3,625.0 1297.2,627.9 1299.0,628.8C1301.5,629.9 1304.0,630.8 1306.5,630.8C1309.8,630.8 1313.2,627.0 1316.5,627.0C1319.8,627.0 1323.2,630.9 1326.5,632.0C1329.8,633.1 1333.2,634.5 1336.5,634.5C1342.3,634.5 1348.2,634.1 1354.0,633.8C1359.8,633.4 1365.7,632.2 1371.5,631.2C1375.7,630.5 1379.8,629.9 1384.0,628.8C1386.9,627.9 1389.8,625.8 1392.8,625.0C1394.4,624.6 1396.1,624.0 1397.8,624.0C1399.8,624.0 1401.9,625.2 1404.0,626.2C1406.5,627.5 1409.0,631.4 1411.5,632.0C1415.7,633.0 1419.8,633.8 1424.0,633.8C1432.3,633.8 1440.7,633.8 1449.0,633.8C1454.8,633.8 1460.7,633.0 1466.5,633.0C1469.8,633.0 1473.2,634.2 1476.5,635.0C1478.8,635.6 1481.2,636.3 1483.5,637.0"/>
<path class="c" stroke="#cf252d" stroke-width="2.5" d="M951.0,862.5C952.7,858.3 954.3,855.1 956.0,850.0C957.7,844.9 959.3,839.7 961.0,830.0C962.2,822.7 963.5,808.5 964.8,792.5C965.6,781.8 966.4,762.3 967.2,750.0C968.1,737.7 968.9,722.6 969.8,717.5C970.8,710.9 971.9,705.9 973.0,705.0C973.8,704.3 974.7,703.8 975.5,703.8C976.3,703.8 977.2,706.8 978.0,710.0C979.0,713.9 980.0,728.3 981.0,737.5C982.2,749.1 983.5,762.8 984.8,772.5C986.0,782.2 987.2,792.3 988.5,797.5C989.8,802.7 991.0,806.9 992.2,808.8C993.7,810.9 995.1,813.0 996.5,813.0C998.0,813.0 999.5,810.7 1001.0,808.8C1002.2,807.1 1003.5,802.3 1004.8,801.3C1006.0,800.2 1007.2,799.3 1008.5,799.3C1009.8,799.3 1011.0,802.4 1012.2,805.0C1013.5,807.6 1014.8,813.2 1016.0,817.5C1017.7,823.2 1019.3,830.2 1021.0,835.0C1022.7,839.9 1024.3,845.1 1026.0,847.5C1028.1,850.5 1030.2,852.9 1032.2,853.8C1034.8,854.8 1037.2,855.8 1039.8,855.8C1042.7,855.8 1045.6,854.8 1048.5,853.8C1051.0,852.9 1053.5,851.1 1056.0,848.8C1058.5,846.5 1061.0,841.8 1063.5,837.5C1065.6,833.9 1067.7,827.6 1069.8,825.0C1071.8,822.4 1073.9,819.7 1076.0,819.3C1077.2,819.0 1078.5,818.8 1079.8,818.8C1081.4,818.8 1083.1,821.0 1084.8,822.5C1086.8,824.4 1088.9,827.7 1091.0,830.0C1093.5,832.8 1096.0,835.4 1098.5,837.5C1101.8,840.4 1105.2,842.8 1108.5,845.0C1111.8,847.3 1115.2,849.5 1118.5,851.3C1121.8,853.0 1125.2,854.7 1128.5,855.8C1132.7,857.1 1136.8,858.4 1141.0,858.8C1149.3,859.5 1157.7,860.0 1166.0,860.0C1174.3,860.0 1182.7,859.7 1191.0,859.3C1199.3,858.9 1207.7,857.5 1216.0,856.3C1224.3,855.1 1232.7,853.8 1241.0,852.0C1246.0,851.0 1251.0,850.1 1256.0,848.0C1258.5,847.0 1261.0,845.5 1263.5,842.5C1265.2,840.6 1266.8,835.6 1268.5,830.0C1270.2,824.5 1271.8,814.6 1273.5,805.0C1274.8,797.9 1276.0,784.8 1277.2,780.0C1278.3,775.9 1279.4,771.9 1280.5,771.3C1281.3,770.9 1282.2,770.5 1283.0,770.5C1284.0,770.5 1285.0,774.6 1286.0,777.5C1287.7,782.5 1289.3,793.0 1291.0,800.0C1292.7,807.1 1294.3,815.0 1296.0,820.0C1297.0,823.1 1298.0,825.5 1299.0,827.5C1301.5,832.7 1304.0,836.9 1306.5,840.0C1309.8,844.3 1313.2,847.8 1316.5,850.1C1320.7,852.9 1324.8,855.4 1329.0,856.3C1334.0,857.4 1339.0,858.3 1344.0,858.3C1349.0,858.3 1354.0,858.0 1359.0,857.6C1363.2,857.2 1367.3,855.9 1371.5,853.8C1374.0,852.6 1376.5,849.0 1379.0,845.1C1381.1,841.8 1383.2,834.6 1385.2,830.1C1387.3,825.5 1389.4,820.1 1391.5,817.6C1393.2,815.5 1394.8,813.1 1396.5,813.1C1397.8,813.1 1399.0,813.4 1400.2,813.8C1401.5,814.3 1402.8,817.6 1404.0,820.1C1406.1,824.1 1408.2,830.8 1410.2,835.1C1412.3,839.3 1414.4,843.6 1416.5,846.3C1419.0,849.6 1421.5,852.4 1424.0,853.8C1427.3,855.7 1430.7,856.5 1434.0,857.6C1436.9,858.5 1439.8,859.2 1442.8,860.1C1445.5,860.9 1448.2,861.7 1451.0,862.6"/>
<g stroke="#555555" stroke-width="1.2" fill="none">
<line x1="1018.9" y1="862.5" x2="1019.0" y2="851.7"/>
<line x1="1115.8" y1="862.5" x2="1115.9" y2="851.7"/>
<line x1="1213.1" y1="862.5" x2="1213.2" y2="851.7"/>
<line x1="1311.2" y1="862.5" x2="1311.3" y2="851.7"/>
<line x1="1407.8" y1="862.6" x2="1407.9" y2="851.8"/>
<line x1="1504.8" y1="862.6" x2="1504.9" y2="851.8"/>
<line x1="1603.1" y1="862.6" x2="1603.2" y2="851.8"/>
</g>
<g class="tk" text-anchor="end" font-size="27.4">
<text x="917.8" y="32.1">100</text>
<text x="917.4" y="107.0">60</text>
<text x="917.8" y="183.4">20</text>
<text x="917.1" y="229.2">600</text>
<text x="917.1" y="300.7">400</text>
<text x="917.1" y="372.4">200</text>
<text x="916.6" y="509.2">400</text>
<text x="918.5" y="581.6">200</text>
<text x="915.8" y="763.6">30</text>
<text x="915.2" y="871.6">0</text>
</g>
<g class="tk" text-anchor="end" font-size="26.8">
<text x="932.3" y="891.8">0</text>
<text x="1041.6" y="891.5">500</text>
<text x="1145.4" y="891.1">1000</text>
<text x="1241.5" y="890.7">1500</text>
<text x="1341.1" y="890.4">2000</text>
<text x="1437.2" y="890.0">2500</text>
<text x="1534.7" y="889.7">3000</text>
<text x="1633.4" y="889.4">3500</text>
<text x="1733.0" y="889.2">4000</text>
</g>
<g class="pk">
<text x="961.7" y="102.2">271 Ma</text>
<text x="1003.7" y="119.7">459 Ma</text>
<text x="1262.3" y="36.5">1847 Ma</text>
<text x="1391.2" y="52.2">2510 Ma</text>
<text x="1345.7" y="123.7">2318 Ma</text>
<text x="1059.5" y="229.0">788 Ma</text>
<text x="1291.7" y="359.2">2000 Ma</text>
<text x="1423.7" y="374.7">2682 Ma</text>
<text x="1073.7" y="451.0">751-813 Ma</text>
<text x="1258.7" y="606.7">1863 Ma</text>
<text x="1371.7" y="619.0">2460 Ma</text>
<text x="951.5" y="700.2">262 Ma</text>
<text x="993.2" y="792.2">439 Ma</text>
<text x="1057.7" y="814.2">807 Ma</text>
<text x="1258.7" y="765.5">1864 Ma</text>
<text x="1371.2" y="808.0">2462 Ma</text>
</g>
<g class="tt" text-anchor="end" font-size="17.55">
<text x="1703.4" y="23.4">Southern North China Block</text>
<text x="1701.4" y="44.2">n=685</text>
<text x="1704.9" y="234.9">Northern Yangtze Block</text>
<text x="1707.4" y="255.4">n=2083</text>
<text x="1704.4" y="451.2">Western Yangtze Block</text>
<text x="1704.4" y="471.2">n=2400</text>
<text x="1702.4" y="657.4">Songpan-Ganzi Block</text>
<text x="1703.9" y="677.9">n=349</text>
</g>
</g>
<g id="bottom">
<g stroke="#9a9a9a" stroke-width="1.2">
<line x1="349.5" y1="1171.6" x2="1368.5" y2="1171.6"/>
<line x1="349.5" y1="1371.3" x2="1368.5" y2="1371.3"/>
</g>
<g fill="#222">
<rect x="373.6" y="1170.0" width="1.4" height="1.8"/>
<rect x="398.4" y="1170.0" width="1.4" height="1.8"/>
<rect x="423.1" y="1170.0" width="1.4" height="1.8"/>
<rect x="447.9" y="1170.0" width="1.4" height="1.8"/>
<rect x="472.5" y="1170.0" width="1.8" height="3.6"/>
<rect x="497.5" y="1170.0" width="1.4" height="1.8"/>
<rect x="522.3" y="1170.0" width="1.4" height="1.8"/>
<rect x="547.0" y="1170.0" width="1.4" height="1.8"/>
<rect x="571.8" y="1170.0" width="1.4" height="1.8"/>
<rect x="596.4" y="1170.0" width="1.8" height="3.6"/>
<rect x="621.4" y="1170.0" width="1.4" height="1.8"/>
<rect x="646.2" y="1170.0" width="1.4" height="1.8"/>
<rect x="670.9" y="1170.0" width="1.4" height="1.8"/>
<rect x="695.7" y="1170.0" width="1.4" height="1.8"/>
<rect x="720.3" y="1170.0" width="1.8" height="3.6"/>
<rect x="745.3" y="1170.0" width="1.4" height="1.8"/>
<rect x="770.1" y="1170.0" width="1.4" height="1.8"/>
<rect x="794.8" y="1170.0" width="1.4" height="1.8"/>
<rect x="819.6" y="1170.0" width="1.4" height="1.8"/>
<rect x="844.2" y="1170.0" width="1.8" height="3.6"/>
<rect x="869.2" y="1170.0" width="1.4" height="1.8"/>
<rect x="894.0" y="1170.0" width="1.4" height="1.8"/>
<rect x="918.7" y="1170.0" width="1.4" height="1.8"/>
<rect x="943.5" y="1170.0" width="1.4" height="1.8"/>
<rect x="968.1" y="1170.0" width="1.8" height="3.6"/>
<rect x="993.1" y="1170.0" width="1.4" height="1.8"/>
<rect x="1017.9" y="1170.0" width="1.4" height="1.8"/>
<rect x="1042.6" y="1170.0" width="1.4" height="1.8"/>
<rect x="1067.4" y="1170.0" width="1.4" height="1.8"/>
<rect x="1092.0" y="1170.0" width="1.8" height="3.6"/>
<rect x="1117.0" y="1170.0" width="1.4" height="1.8"/>
<rect x="1141.8" y="1170.0" width="1.4" height="1.8"/>
<rect x="1166.5" y="1170.0" width="1.4" height="1.8"/>
<rect x="1191.3" y="1170.0" width="1.4" height="1.8"/>
<rect x="1215.9" y="1170.0" width="1.8" height="3.6"/>
<rect x="1240.9" y="1170.0" width="1.4" height="1.8"/>
<rect x="1265.7" y="1170.0" width="1.4" height="1.8"/>
<rect x="373.6" y="1369.7" width="1.4" height="1.8"/>
<rect x="398.4" y="1369.7" width="1.4" height="1.8"/>
<rect x="423.1" y="1369.7" width="1.4" height="1.8"/>
<rect x="447.9" y="1369.7" width="1.4" height="1.8"/>
<rect x="472.5" y="1369.7" width="1.8" height="3.6"/>
<rect x="497.5" y="1369.7" width="1.4" height="1.8"/>
<rect x="522.3" y="1369.7" width="1.4" height="1.8"/>
<rect x="547.0" y="1369.7" width="1.4" height="1.8"/>
<rect x="571.8" y="1369.7" width="1.4" height="1.8"/>
<rect x="596.4" y="1369.7" width="1.8" height="3.6"/>
<rect x="621.4" y="1369.7" width="1.4" height="1.8"/>
<rect x="646.2" y="1369.7" width="1.4" height="1.8"/>
<rect x="670.9" y="1369.7" width="1.4" height="1.8"/>
<rect x="695.7" y="1369.7" width="1.4" height="1.8"/>
<rect x="720.3" y="1369.7" width="1.8" height="3.6"/>
<rect x="745.3" y="1369.7" width="1.4" height="1.8"/>
<rect x="770.1" y="1369.7" width="1.4" height="1.8"/>
<rect x="794.8" y="1369.7" width="1.4" height="1.8"/>
<rect x="819.6" y="1369.7" width="1.4" height="1.8"/>
<rect x="844.2" y="1369.7" width="1.8" height="3.6"/>
<rect x="869.2" y="1369.7" width="1.4" height="1.8"/>
<rect x="894.0" y="1369.7" width="1.4" height="1.8"/>
<rect x="918.7" y="1369.7" width="1.4" height="1.8"/>
<rect x="943.5" y="1369.7" width="1.4" height="1.8"/>
<rect x="968.1" y="1369.7" width="1.8" height="3.6"/>
<rect x="993.1" y="1369.7" width="1.4" height="1.8"/>
<rect x="1017.9" y="1369.7" width="1.4" height="1.8"/>
<rect x="1042.6" y="1369.7" width="1.4" height="1.8"/>
<rect x="1067.4" y="1369.7" width="1.4" height="1.8"/>
<rect x="1092.0" y="1369.7" width="1.8" height="3.6"/>
<rect x="1117.0" y="1369.7" width="1.4" height="1.8"/>
<rect x="1141.8" y="1369.7" width="1.4" height="1.8"/>
<rect x="1166.5" y="1369.7" width="1.4" height="1.8"/>
<rect x="1191.3" y="1369.7" width="1.4" height="1.8"/>
<rect x="1215.9" y="1369.7" width="1.8" height="3.6"/>
<rect x="1240.9" y="1369.7" width="1.4" height="1.8"/>
<rect x="1265.7" y="1369.7" width="1.4" height="1.8"/>
<rect x="348.6" y="1568.9" width="1.8" height="5"/>
<rect x="373.6" y="1569.5" width="1.4" height="1.8"/>
<rect x="398.4" y="1569.5" width="1.4" height="1.8"/>
<rect x="423.1" y="1569.5" width="1.4" height="1.8"/>
<rect x="447.9" y="1569.5" width="1.4" height="1.8"/>
<rect x="472.5" y="1568.9" width="1.8" height="5"/>
<rect x="497.5" y="1569.5" width="1.4" height="1.8"/>
<rect x="522.3" y="1569.5" width="1.4" height="1.8"/>
<rect x="547.0" y="1569.5" width="1.4" height="1.8"/>
<rect x="571.8" y="1569.5" width="1.4" height="1.8"/>
<rect x="596.4" y="1568.9" width="1.8" height="5"/>
<rect x="621.4" y="1569.5" width="1.4" height="1.8"/>
<rect x="646.2" y="1569.5" width="1.4" height="1.8"/>
<rect x="670.9" y="1569.5" width="1.4" height="1.8"/>
<rect x="695.7" y="1569.5" width="1.4" height="1.8"/>
<rect x="720.3" y="1568.9" width="1.8" height="5"/>
<rect x="745.3" y="1569.5" width="1.4" height="1.8"/>
<rect x="770.1" y="1569.5" width="1.4" height="1.8"/>
<rect x="794.8" y="1569.5" width="1.4" height="1.8"/>
<rect x="819.6" y="1569.5" width="1.4" height="1.8"/>
<rect x="844.2" y="1568.9" width="1.8" height="5"/>
<rect x="869.2" y="1569.5" width="1.4" height="1.8"/>
<rect x="894.0" y="1569.5" width="1.4" height="1.8"/>
<rect x="918.7" y="1569.5" width="1.4" height="1.8"/>
<rect x="943.5" y="1569.5" width="1.4" height="1.8"/>
<rect x="968.1" y="1568.9" width="1.8" height="5"/>
<rect x="993.1" y="1569.5" width="1.4" height="1.8"/>
<rect x="1017.9" y="1569.5" width="1.4" height="1.8"/>
<rect x="1042.6" y="1569.5" width="1.4" height="1.8"/>
<rect x="1067.4" y="1569.5" width="1.4" height="1.8"/>
<rect x="1092.0" y="1568.9" width="1.8" height="5"/>
<rect x="1117.0" y="1569.5" width="1.4" height="1.8"/>
<rect x="1141.8" y="1569.5" width="1.4" height="1.8"/>
<rect x="1166.5" y="1569.5" width="1.4" height="1.8"/>
<rect x="1191.3" y="1569.5" width="1.4" height="1.8"/>
<rect x="1215.9" y="1568.9" width="1.8" height="5"/>
<rect x="1240.9" y="1569.5" width="1.4" height="1.8"/>
<rect x="1265.7" y="1569.5" width="1.4" height="1.8"/>
</g>
<defs>
<clipPath id="cb0"><rect x="349.5" y="971.3" width="1019.0" height="200.8"/></clipPath>
<clipPath id="cb1"><rect x="349.5" y="1171.6" width="1019.0" height="200.3"/></clipPath>
<clipPath id="cb2"><rect x="349.5" y="1371.3" width="1019.0" height="200.3"/></clipPath>
</defs>
<path class="c" clip-path="url(#cb0)" stroke="#c9181c" stroke-width="2.0" d="M349.2,1171.9C351.6,1171.9 353.9,1171.9 356.2,1171.9C356.8,1171.9 357.4,1166.7 358.0,1160.0C358.5,1154.2 359.0,1118.7 359.5,1110.0C359.9,1102.8 360.3,1095.0 360.8,1095.0C361.2,1095.0 361.6,1095.4 362.0,1096.2C362.3,1096.9 362.7,1128.2 363.0,1135.0C363.5,1145.3 364.0,1155.0 364.5,1155.0C364.9,1155.0 365.3,1145.5 365.8,1135.0C366.2,1124.5 366.6,1080.5 367.0,1060.0C367.3,1043.6 367.7,1018.0 368.0,1018.0C368.4,1018.0 368.8,1018.2 369.2,1018.8C369.5,1019.1 369.8,1042.3 370.0,1060.0C370.2,1077.7 370.5,1123.2 370.8,1135.0C371.1,1150.8 371.4,1162.7 371.8,1165.0C372.4,1169.6 373.1,1171.9 373.8,1171.9C376.2,1171.9 378.8,1171.9 381.2,1171.9C382.1,1171.9 382.9,1169.2 383.8,1165.0C384.3,1162.1 384.9,1144.3 385.5,1135.0C385.8,1129.7 386.2,1120.0 386.5,1120.0C386.9,1120.0 387.3,1120.4 387.8,1121.2C388.1,1121.9 388.4,1133.0 388.8,1140.0C389.0,1145.2 389.2,1157.5 389.5,1157.5C389.8,1157.5 390.2,1145.0 390.5,1140.0C390.8,1136.2 391.0,1130.0 391.2,1130.0C391.7,1130.0 392.1,1130.4 392.5,1131.2C392.8,1131.8 393.0,1146.2 393.2,1150.0C393.8,1158.8 394.4,1165.7 395.0,1167.5C395.8,1170.1 396.7,1171.9 397.5,1171.9C398.3,1171.9 399.2,1171.3 400.0,1170.0C400.6,1169.1 401.2,1161.9 401.8,1155.0C402.2,1150.1 402.6,1132.8 403.0,1132.5C403.5,1132.2 404.0,1132.0 404.5,1132.0C404.8,1132.0 405.2,1145.0 405.5,1150.0C406.0,1157.5 406.5,1167.7 407.0,1168.8C408.0,1170.9 409.0,1171.9 410.0,1171.9C412.1,1171.9 414.2,1171.9 416.2,1171.9C417.1,1171.9 417.9,1166.4 418.8,1160.0C419.3,1155.5 419.9,1136.1 420.5,1130.0C421.2,1123.0 421.8,1115.8 422.5,1115.0C423.2,1114.2 423.8,1113.8 424.5,1113.8C425.3,1113.8 426.2,1116.4 427.0,1120.0C427.6,1122.5 428.2,1133.3 428.8,1140.0C429.3,1146.7 429.9,1155.4 430.5,1160.0C431.2,1165.3 431.8,1171.9 432.5,1171.9C435.0,1171.9 437.5,1171.9 440.0,1171.9C471.7,1171.9 503.3,1171.9 535.0,1171.9C535.8,1171.9 536.7,1169.7 537.5,1167.5C538.2,1165.7 538.8,1159.5 539.5,1157.5C540.1,1155.8 540.7,1153.8 541.2,1153.8C542.2,1153.8 543.2,1153.8 544.2,1153.8C544.8,1153.8 545.2,1157.9 545.8,1160.0C546.5,1163.2 547.2,1169.2 548.0,1170.0C549.1,1171.2 550.2,1171.9 551.2,1171.9C556.2,1171.9 561.2,1171.9 566.2,1171.9C567.1,1171.9 567.9,1169.4 568.8,1167.5C569.6,1165.6 570.4,1161.2 571.2,1160.0C572.1,1158.8 572.9,1157.5 573.8,1157.5C574.6,1157.5 575.4,1157.7 576.2,1158.0C577.1,1158.3 577.9,1161.9 578.8,1163.8C579.8,1166.1 580.9,1169.8 582.0,1170.5C583.4,1171.4 584.8,1171.9 586.2,1171.9C599.6,1171.9 612.9,1171.9 626.2,1171.9C627.3,1171.9 628.4,1167.6 629.5,1165.0C630.3,1163.0 631.2,1158.9 632.0,1158.0C632.8,1157.1 633.7,1156.2 634.5,1156.2C635.3,1156.2 636.2,1157.5 637.0,1158.8C637.8,1160.0 638.7,1164.3 639.5,1166.2C640.5,1168.6 641.5,1171.9 642.5,1171.9C644.2,1171.9 645.8,1171.9 647.5,1171.9C686.7,1171.9 725.8,1171.9 765.0,1171.9C766.2,1171.9 767.5,1167.7 768.8,1165.0C769.6,1163.2 770.4,1160.2 771.2,1158.8C771.8,1157.7 772.4,1156.2 773.0,1156.2C773.8,1156.2 774.7,1156.8 775.5,1157.5C776.3,1158.2 777.2,1163.1 778.0,1165.0C779.2,1167.9 780.5,1171.9 781.8,1171.9C782.6,1171.9 783.4,1171.9 784.2,1171.9C785.5,1171.9 786.8,1169.0 788.0,1167.5C789.7,1165.5 791.3,1161.8 793.0,1161.2C794.2,1160.8 795.5,1160.5 796.8,1160.5C798.0,1160.5 799.2,1163.3 800.5,1165.0C801.8,1166.7 803.0,1170.3 804.2,1170.8C806.3,1171.5 808.4,1171.9 810.5,1171.9C814.7,1171.9 818.8,1171.9 823.0,1171.9C824.2,1171.9 825.5,1169.2 826.8,1167.5C828.0,1165.8 829.2,1161.9 830.5,1161.2C831.8,1160.6 833.0,1160.0 834.2,1160.0C835.3,1160.0 836.4,1161.2 837.5,1162.0C838.3,1162.6 839.2,1164.5 840.0,1164.5C841.0,1164.5 842.0,1163.3 843.0,1162.0C843.8,1160.9 844.7,1158.2 845.5,1155.0C846.3,1151.8 847.2,1145.7 848.0,1140.0C848.8,1134.3 849.7,1126.7 850.5,1120.0C851.3,1113.3 852.2,1107.1 853.0,1100.0C853.8,1092.9 854.7,1083.9 855.5,1077.5C856.8,1067.8 858.0,1061.2 859.2,1052.5C860.5,1043.8 861.8,1034.6 863.0,1025.0C863.8,1018.6 864.7,1011.1 865.5,1005.0C866.2,1000.1 866.8,992.5 867.5,991.2C868.1,990.1 868.7,989.2 869.2,989.2C870.1,989.2 870.9,989.2 871.8,989.2C872.3,989.2 872.9,991.3 873.5,993.8C874.0,995.9 874.5,1003.9 875.0,1010.0C875.6,1017.2 876.2,1026.5 876.8,1035.0C877.6,1047.2 878.4,1060.0 879.2,1072.5C880.1,1085.0 880.9,1098.9 881.8,1110.0C882.6,1121.1 883.4,1134.1 884.2,1140.0C885.1,1145.9 885.9,1150.9 886.8,1152.5C887.6,1154.1 888.4,1155.5 889.2,1155.5C890.5,1155.5 891.8,1153.8 893.0,1153.0C894.0,1152.4 895.0,1151.2 896.0,1151.2C896.9,1151.2 897.8,1151.8 898.8,1152.5C899.8,1153.2 900.8,1157.1 901.8,1158.8C903.0,1160.8 904.2,1163.8 905.5,1163.8C906.8,1163.8 908.0,1163.8 909.2,1163.8C910.9,1163.8 912.6,1161.2 914.2,1160.0C916.3,1158.5 918.4,1156.7 920.5,1155.5C922.3,1154.5 924.2,1154.3 926.0,1153.0C927.1,1152.2 928.2,1150.6 929.2,1148.8C930.3,1146.9 931.4,1142.7 932.5,1141.2C933.3,1140.1 934.2,1138.8 935.0,1138.8C935.8,1138.8 936.7,1139.9 937.5,1141.2C938.3,1142.6 939.2,1148.9 940.0,1152.5C941.0,1156.8 942.0,1162.0 943.0,1165.0C944.0,1168.0 945.0,1171.9 946.0,1171.9C960.8,1171.9 975.7,1171.9 990.5,1171.9"/>
<path class="c" clip-path="url(#cb0)" stroke="#c9181c" stroke-width="1.0" d="M990.5,1171.9C991.8,1170.9 993.0,1170.0 994.2,1168.8C995.9,1167.1 997.6,1164.0 999.2,1163.0C1001.3,1161.7 1003.4,1160.7 1005.5,1160.5C1008.8,1160.2 1012.2,1160.0 1015.5,1160.0C1018.8,1160.0 1022.2,1160.6 1025.5,1161.2C1028.0,1161.7 1030.5,1163.8 1033.0,1164.5C1034.5,1164.9 1036.0,1165.2 1037.5,1165.5"/>
<path class="c" clip-path="url(#cb0)" stroke="#c9181c" stroke-width="1.5" d="M1037.5,1165.5C1038.5,1164.7 1039.5,1164.1 1040.5,1163.0C1041.8,1161.6 1043.0,1157.7 1044.2,1156.2C1045.5,1154.8 1046.8,1153.0 1048.0,1153.0C1049.0,1153.0 1050.0,1153.3 1051.0,1153.8C1052.1,1154.2 1053.2,1157.6 1054.2,1158.8C1055.9,1160.5 1057.6,1162.5 1059.2,1162.5C1061.8,1162.5 1064.2,1162.0 1066.8,1162.0C1068.4,1162.0 1070.1,1164.1 1071.8,1165.0C1073.2,1165.7 1074.6,1167.0 1076.0,1167.0C1077.5,1167.0 1079.0,1164.9 1080.5,1163.8C1082.2,1162.5 1083.8,1160.2 1085.5,1159.5C1087.2,1158.8 1088.8,1158.0 1090.5,1158.0C1092.2,1158.0 1093.8,1159.1 1095.5,1160.0C1097.2,1160.9 1098.8,1163.0 1100.5,1164.5C1102.2,1166.0 1103.8,1167.5 1105.5,1168.8C1107.2,1170.0 1108.8,1171.9 1110.5,1171.9C1114.7,1171.9 1118.8,1171.9 1123.0,1171.9C1127.2,1171.9 1131.3,1171.9 1135.5,1171.9C1138.0,1171.9 1140.5,1170.8 1143.0,1170.8C1146.3,1170.8 1149.7,1171.5 1153.0,1171.9"/>
<path class="c" clip-path="url(#cb1)" stroke="#c9181c" stroke-width="2.0" d="M349.2,1371.6C350.8,1371.1 352.2,1371.2 353.8,1370.0C354.3,1369.6 354.9,1363.3 355.5,1362.5C356.0,1361.8 356.5,1361.2 357.0,1361.2C357.3,1361.2 357.7,1367.5 358.0,1367.5C358.2,1367.5 358.5,1341.8 358.8,1335.0C359.0,1328.2 359.2,1320.0 359.5,1320.0C359.8,1320.0 360.2,1320.9 360.5,1322.5C360.8,1323.7 361.0,1345.0 361.2,1345.0C361.7,1345.0 362.1,1339.4 362.5,1335.0C362.9,1330.6 363.3,1319.8 363.8,1315.0C364.2,1310.2 364.6,1304.3 365.0,1303.8C365.6,1302.9 366.2,1302.5 366.8,1302.5C367.0,1302.5 367.2,1309.9 367.5,1315.0C367.8,1321.8 368.2,1342.5 368.5,1342.5C368.8,1342.5 369.2,1337.9 369.5,1335.0C369.8,1332.1 370.2,1325.0 370.5,1325.0C370.9,1325.0 371.3,1325.5 371.8,1326.2C372.2,1327.0 372.6,1335.0 373.0,1340.0C373.5,1346.0 374.0,1356.0 374.5,1360.0C375.1,1364.7 375.7,1370.0 376.2,1370.0C376.7,1370.0 377.1,1367.8 377.5,1365.0C377.9,1362.2 378.3,1346.9 378.8,1340.0C379.2,1333.1 379.6,1323.4 380.0,1322.5C380.3,1321.8 380.7,1321.2 381.0,1321.2C381.3,1321.2 381.7,1335.0 382.0,1335.0C382.3,1335.0 382.7,1323.0 383.0,1315.0C383.3,1307.0 383.7,1293.3 384.0,1285.0C384.2,1278.8 384.5,1268.8 384.8,1268.8C385.1,1268.8 385.4,1269.1 385.8,1270.0C386.0,1270.6 386.2,1298.5 386.5,1310.0C386.8,1325.3 387.2,1343.8 387.5,1350.0C388.0,1359.4 388.5,1365.8 389.0,1367.5C389.8,1370.0 390.5,1371.6 391.2,1371.6C393.8,1371.6 396.2,1371.6 398.8,1371.6C399.6,1371.6 400.4,1366.0 401.2,1360.0C401.8,1355.8 402.4,1343.0 403.0,1335.0C403.5,1328.1 404.0,1319.3 404.5,1315.0C405.0,1310.7 405.5,1305.5 406.0,1305.5C406.3,1305.5 406.7,1307.5 407.0,1310.0C407.3,1312.5 407.7,1328.2 408.0,1335.0C408.5,1345.1 409.0,1355.7 409.5,1360.0C410.1,1365.0 410.7,1369.3 411.2,1370.0C412.1,1371.0 412.9,1371.6 413.8,1371.6C414.2,1371.6 414.6,1368.1 415.0,1365.0C415.5,1361.2 416.0,1351.3 416.5,1345.0C416.9,1339.7 417.3,1330.4 417.8,1330.0C418.1,1329.7 418.4,1329.5 418.8,1329.5C419.1,1329.5 419.4,1342.0 419.8,1345.0C420.0,1347.3 420.2,1350.0 420.5,1350.0C420.8,1350.0 421.2,1338.5 421.5,1335.0C421.8,1331.5 422.2,1327.0 422.5,1327.0C422.9,1327.0 423.3,1327.2 423.8,1327.5C424.2,1327.8 424.6,1339.7 425.0,1345.0C425.5,1351.4 426.0,1358.8 426.5,1362.5C427.0,1366.2 427.5,1370.1 428.0,1370.5C429.1,1371.3 430.2,1371.6 431.2,1371.6C435.0,1371.6 438.8,1371.6 442.5,1371.6C443.2,1371.6 443.8,1366.3 444.5,1360.0C444.9,1356.1 445.3,1341.2 445.8,1335.0C446.1,1330.0 446.4,1323.0 446.8,1323.0C447.1,1323.0 447.4,1323.3 447.8,1323.8C448.1,1324.2 448.4,1339.1 448.8,1345.0C449.2,1352.4 449.6,1361.0 450.0,1363.8C450.7,1368.1 451.3,1371.6 452.0,1371.6C453.0,1371.6 454.0,1371.6 455.0,1371.6C477.5,1371.6 500.0,1371.6 522.5,1371.6C523.3,1371.6 524.2,1368.7 525.0,1366.2C525.8,1363.8 526.7,1357.7 527.5,1355.0C528.2,1352.9 528.8,1350.0 529.5,1350.0C530.2,1350.0 530.8,1350.2 531.5,1350.5C532.2,1350.8 532.8,1357.0 533.5,1360.0C534.2,1363.4 535.0,1368.5 535.8,1369.5C536.8,1370.8 537.8,1371.6 538.8,1371.6C540.4,1371.6 542.1,1371.6 543.8,1371.6C544.6,1371.6 545.4,1366.7 546.2,1363.8C547.1,1360.8 547.9,1356.1 548.8,1353.8C549.4,1351.8 550.1,1349.2 550.8,1349.2C551.3,1349.2 551.9,1349.6 552.5,1350.0C553.2,1350.5 553.8,1356.0 554.5,1358.8C555.3,1362.2 556.2,1367.4 557.0,1368.8C558.0,1370.3 559.0,1371.6 560.0,1371.6C594.2,1371.6 628.3,1371.6 662.5,1371.6C663.3,1371.6 664.2,1367.8 665.0,1365.0C665.8,1362.2 666.7,1355.9 667.5,1353.8C668.2,1352.0 668.8,1350.0 669.5,1350.0C670.2,1350.0 670.8,1350.2 671.5,1350.5C672.2,1350.8 673.0,1355.9 673.8,1358.8C674.6,1361.9 675.4,1367.5 676.2,1368.8C677.3,1370.4 678.4,1371.6 679.5,1371.6C698.4,1371.6 717.3,1371.6 736.2,1371.6C737.3,1371.6 738.4,1367.6 739.5,1365.0C740.5,1362.6 741.5,1358.2 742.5,1356.2C743.3,1354.6 744.2,1352.5 745.0,1352.5C745.8,1352.5 746.7,1353.0 747.5,1353.8C748.3,1354.5 749.2,1358.8 750.0,1361.2C751.0,1364.2 752.0,1369.1 753.0,1370.0C754.1,1370.9 755.2,1371.6 756.2,1371.6C761.8,1371.6 767.4,1371.6 773.0,1371.6C774.7,1371.6 776.3,1368.3 778.0,1366.2C779.5,1364.4 781.0,1360.5 782.5,1360.0C783.7,1359.6 784.8,1359.2 786.0,1359.2C787.1,1359.2 788.2,1362.1 789.2,1363.8C790.5,1365.6 791.8,1369.1 793.0,1370.0C794.2,1370.9 795.5,1371.6 796.8,1371.6C804.7,1371.6 812.6,1371.6 820.5,1371.6C822.6,1371.6 824.7,1370.9 826.8,1370.0C828.4,1369.3 830.1,1366.5 831.8,1363.8C833.0,1361.7 834.2,1358.3 835.5,1355.0C836.8,1351.7 838.0,1347.0 839.2,1343.8C840.5,1340.5 841.8,1336.8 843.0,1335.0C844.2,1333.2 845.5,1333.0 846.8,1331.2C848.0,1329.5 849.2,1326.2 850.5,1322.5C851.8,1318.8 853.0,1311.8 854.2,1307.5C855.5,1303.2 856.8,1299.6 858.0,1296.2C858.8,1294.0 859.7,1292.9 860.5,1290.0C861.3,1287.1 862.2,1281.5 863.0,1275.0C863.8,1268.5 864.7,1257.1 865.5,1247.5C866.3,1237.9 867.2,1227.2 868.0,1217.5C868.7,1209.8 869.3,1200.0 870.0,1195.0C870.6,1190.6 871.2,1185.0 871.8,1185.0C872.6,1185.0 873.4,1185.0 874.2,1185.0C874.8,1185.0 875.4,1189.4 876.0,1192.5C876.8,1196.9 877.7,1205.1 878.5,1210.0C879.3,1214.9 880.2,1216.0 881.0,1222.5C881.7,1227.7 882.3,1243.9 883.0,1255.0C883.8,1268.8 884.7,1285.2 885.5,1297.5C886.3,1309.8 887.2,1321.7 888.0,1330.0C888.8,1338.3 889.7,1345.9 890.5,1350.0C891.3,1354.1 892.2,1358.8 893.0,1358.8C894.2,1358.8 895.5,1358.8 896.8,1358.8C898.0,1358.8 899.2,1356.2 900.5,1356.2C901.8,1356.2 903.0,1357.5 904.2,1357.5C905.1,1357.5 905.9,1356.3 906.8,1355.0C907.6,1353.7 908.4,1348.1 909.2,1345.0C910.1,1341.9 910.9,1337.0 911.8,1336.2C912.6,1335.5 913.4,1335.0 914.2,1335.0C915.1,1335.0 915.9,1337.6 916.8,1340.0C917.6,1342.4 918.4,1349.1 919.2,1352.5C920.3,1357.0 921.4,1362.7 922.5,1363.8C923.7,1364.9 924.8,1365.8 926.0,1365.8C927.1,1365.8 928.2,1363.0 929.2,1361.2C930.5,1359.2 931.8,1355.4 933.0,1353.8C934.7,1351.5 936.3,1349.6 938.0,1348.8C939.2,1348.1 940.5,1347.5 941.8,1347.5C943.0,1347.5 944.2,1349.5 945.5,1351.2C946.8,1353.0 948.0,1357.3 949.2,1360.0C950.5,1362.7 951.8,1366.0 953.0,1367.5C954.7,1369.5 956.3,1371.6 958.0,1371.6C961.3,1371.6 964.7,1371.6 968.0,1371.6C969.2,1371.6 970.5,1369.2 971.8,1367.5C973.0,1365.8 974.2,1362.4 975.5,1361.2C976.8,1360.1 978.0,1358.8 979.2,1358.8C980.5,1358.8 981.8,1360.6 983.0,1362.0C984.2,1363.4 985.5,1366.8 986.8,1367.5C988.0,1368.2 989.2,1368.8 990.5,1368.8C991.8,1368.8 993.0,1366.5 994.2,1365.0C995.5,1363.5 996.8,1360.0 998.0,1359.5C999.0,1359.1 1000.0,1358.8 1001.0,1358.8C1002.1,1358.8 1003.2,1361.2 1004.2,1362.5C1005.5,1364.0 1006.8,1367.0 1008.0,1367.0C1009.2,1367.0 1010.5,1366.3 1011.8,1365.5C1013.0,1364.7 1014.2,1361.2 1015.5,1360.8C1016.8,1360.3 1018.0,1360.0 1019.2,1360.0C1020.5,1360.0 1021.8,1362.3 1023.0,1363.8C1024.2,1365.2 1025.5,1368.3 1026.8,1368.8C1028.0,1369.2 1029.2,1369.5 1030.5,1369.5C1032.2,1369.5 1033.8,1365.7 1035.5,1363.8C1037.2,1361.8 1038.8,1358.5 1040.5,1357.5C1042.2,1356.5 1043.8,1355.5 1045.5,1355.5C1047.6,1355.5 1049.7,1355.5 1051.8,1355.5C1053.8,1355.5 1055.9,1358.0 1058.0,1358.0C1059.7,1358.0 1061.3,1355.9 1063.0,1354.5C1064.7,1353.1 1066.3,1349.2 1068.0,1349.2C1069.2,1349.2 1070.5,1349.2 1071.8,1349.2C1073.0,1349.2 1074.2,1352.5 1075.5,1353.8C1077.2,1355.4 1078.8,1357.3 1080.5,1358.0C1082.2,1358.7 1083.8,1358.8 1085.5,1359.5C1087.2,1360.2 1088.8,1362.1 1090.5,1363.8C1092.2,1365.4 1093.8,1368.5 1095.5,1369.5C1097.2,1370.5 1098.8,1371.6 1100.5,1371.6C1103.0,1371.6 1105.5,1371.6 1108.0,1371.6C1110.5,1371.6 1113.0,1369.4 1115.5,1367.5C1117.2,1366.2 1118.8,1362.8 1120.5,1362.0C1122.2,1361.2 1123.8,1360.5 1125.5,1360.5C1126.8,1360.5 1128.0,1362.0 1129.2,1363.0C1130.9,1364.4 1132.6,1367.5 1134.2,1368.8C1135.9,1370.0 1137.6,1371.6 1139.2,1371.6C1143.8,1371.6 1148.4,1371.6 1153.0,1371.6"/>
<path class="c" clip-path="url(#cb2)" stroke="#c9181c" stroke-width="2.0" d="M357.5,1571.2C358.5,1565.8 359.5,1563.5 360.5,1555.0C361.3,1547.9 362.2,1527.1 363.0,1510.0C363.5,1499.7 364.0,1480.6 364.5,1475.0C364.9,1470.3 365.3,1465.5 365.8,1465.5C366.2,1465.5 366.6,1465.7 367.0,1466.2C367.3,1466.7 367.7,1484.4 368.0,1495.0C368.4,1508.3 368.8,1529.6 369.2,1540.0C369.7,1550.4 370.1,1563.8 370.5,1563.8C370.8,1563.8 371.2,1559.5 371.5,1555.0C371.8,1550.5 372.2,1531.6 372.5,1525.0C372.8,1520.1 373.0,1513.8 373.2,1513.8C373.6,1513.8 373.9,1527.0 374.2,1535.0C374.6,1543.0 374.9,1562.5 375.2,1562.5C375.6,1562.5 375.9,1553.8 376.2,1547.5C376.7,1539.7 377.1,1521.8 377.5,1515.0C378.0,1506.9 378.5,1498.3 379.0,1497.5C379.5,1496.7 380.0,1496.2 380.5,1496.2C380.8,1496.2 381.2,1506.9 381.5,1515.0C381.8,1523.1 382.2,1543.4 382.5,1550.0C382.8,1556.6 383.2,1563.8 383.5,1563.8C383.8,1563.8 384.2,1542.9 384.5,1535.0C384.9,1525.1 385.3,1513.0 385.8,1510.0C386.2,1507.0 386.6,1504.5 387.0,1504.5C387.3,1504.5 387.7,1504.9 388.0,1505.5C388.3,1506.1 388.7,1521.0 389.0,1530.0C389.3,1539.0 389.7,1555.3 390.0,1560.0C390.4,1565.9 390.8,1571.2 391.2,1571.2C392.1,1571.2 392.9,1571.2 393.8,1571.2C401.2,1571.2 408.8,1571.2 416.2,1571.2C417.1,1571.2 417.9,1565.5 418.8,1560.0C419.3,1556.1 419.9,1546.7 420.5,1540.0C421.0,1534.2 421.5,1524.8 422.0,1522.5C422.4,1520.5 422.8,1518.8 423.2,1518.8C423.7,1518.8 424.1,1519.2 424.5,1520.0C424.9,1520.8 425.3,1529.0 425.8,1535.0C426.2,1541.0 426.6,1552.4 427.0,1557.5C427.5,1563.6 428.0,1571.2 428.5,1571.2C429.4,1571.2 430.3,1571.2 431.2,1571.2C457.9,1571.2 484.6,1571.2 511.2,1571.2C511.9,1571.2 512.6,1567.9 513.2,1565.0C513.8,1562.4 514.4,1555.8 515.0,1552.5C515.5,1549.7 516.0,1545.5 516.5,1545.5C517.1,1545.5 517.7,1545.5 518.2,1545.5C518.7,1545.5 519.1,1552.3 519.5,1555.0C520.2,1559.4 520.8,1564.1 521.5,1566.2C522.2,1568.7 523.0,1571.2 523.8,1571.2C529.2,1571.2 534.6,1571.2 540.0,1571.2C540.8,1571.2 541.7,1568.1 542.5,1566.2C543.3,1564.4 544.2,1561.6 545.0,1560.0C545.8,1558.4 546.7,1556.2 547.5,1556.2C548.3,1556.2 549.2,1556.3 550.0,1556.5C550.8,1556.7 551.7,1560.6 552.5,1562.5C553.3,1564.4 554.2,1566.8 555.0,1568.0C556.0,1569.5 557.0,1571.2 558.0,1571.2C574.5,1571.2 591.0,1571.2 607.5,1571.2C608.5,1571.2 609.5,1568.0 610.5,1566.2C611.6,1564.3 612.7,1561.1 613.8,1560.0C614.6,1559.2 615.4,1558.2 616.2,1558.2C617.3,1558.2 618.4,1558.7 619.5,1559.2C620.5,1559.8 621.5,1563.2 622.5,1565.0C623.8,1567.2 625.0,1571.2 626.2,1571.2C627.5,1571.2 628.8,1571.2 630.0,1571.2C672.1,1571.2 714.2,1571.2 756.2,1571.2C757.5,1571.2 758.8,1568.1 760.0,1566.2C761.2,1564.4 762.5,1560.8 763.8,1560.0C764.8,1559.3 765.9,1558.8 767.0,1558.8C768.0,1558.8 769.0,1559.0 770.0,1559.2C771.0,1559.5 772.0,1563.0 773.0,1563.8C773.8,1564.4 774.7,1565.0 775.5,1565.0C776.8,1565.0 778.0,1560.8 779.2,1557.5C780.3,1554.6 781.4,1546.9 782.5,1545.0C783.3,1543.5 784.2,1542.0 785.0,1542.0C785.7,1542.0 786.3,1544.2 787.0,1546.2C787.8,1548.6 788.5,1558.5 789.2,1560.0C790.3,1562.2 791.4,1563.8 792.5,1563.8C793.9,1563.8 795.3,1561.4 796.8,1560.0C798.0,1558.7 799.2,1556.0 800.5,1555.5C801.8,1555.0 803.0,1554.5 804.2,1554.5C805.5,1554.5 806.8,1555.9 808.0,1557.0C809.7,1558.4 811.3,1561.1 813.0,1563.0C814.5,1564.7 816.0,1567.4 817.5,1568.0C818.5,1568.4 819.5,1568.8 820.5,1568.8C821.3,1568.8 822.2,1565.9 823.0,1563.8C824.0,1561.2 825.0,1556.6 826.0,1552.5C826.8,1549.1 827.7,1543.2 828.5,1541.2C829.2,1539.7 829.8,1538.0 830.5,1538.0C831.2,1538.0 831.8,1540.5 832.5,1542.5C833.1,1544.2 833.7,1549.2 834.2,1550.0C835.1,1551.2 835.9,1552.0 836.8,1552.0C837.6,1552.0 838.4,1548.6 839.2,1546.2C840.5,1542.8 841.8,1536.9 843.0,1532.5C844.2,1528.1 845.5,1523.4 846.8,1520.0C848.0,1516.6 849.2,1513.7 850.5,1511.2C851.8,1508.8 853.0,1508.0 854.2,1505.0C855.1,1503.0 855.9,1499.6 856.8,1495.0C857.6,1490.4 858.4,1481.1 859.2,1472.5C860.1,1463.9 860.9,1451.5 861.8,1442.5C862.3,1436.2 862.9,1428.1 863.5,1425.0C864.3,1420.6 865.2,1417.3 866.0,1416.2C867.1,1414.8 868.2,1414.8 869.2,1413.8C870.3,1412.8 871.4,1412.1 872.5,1410.0C873.2,1408.7 873.8,1400.7 874.5,1400.0C875.2,1399.2 876.0,1398.8 876.8,1398.8C877.3,1398.8 877.9,1399.9 878.5,1401.2C879.2,1402.8 879.8,1410.5 880.5,1417.5C881.2,1424.5 881.8,1436.4 882.5,1447.5C883.1,1457.2 883.7,1472.3 884.2,1480.0C885.1,1491.0 885.9,1498.1 886.8,1505.0C887.6,1511.9 888.4,1518.6 889.2,1522.5C890.5,1528.3 891.8,1531.8 893.0,1535.0C894.7,1539.2 896.3,1542.1 898.0,1545.0C899.7,1547.9 901.3,1550.0 903.0,1552.5C904.7,1555.0 906.3,1557.5 908.0,1560.0C909.7,1562.5 911.3,1565.5 913.0,1567.5C914.2,1569.0 915.5,1571.2 916.8,1571.2C920.1,1571.2 923.4,1571.2 926.8,1571.2"/>
<path class="c" clip-path="url(#cb2)" stroke="#c9181c" stroke-width="1.0" d="M926.8,1571.2C928.8,1570.0 930.9,1568.8 933.0,1567.5C935.1,1566.2 937.2,1564.2 939.2,1563.8C940.9,1563.4 942.6,1563.0 944.2,1563.0C945.9,1563.0 947.6,1564.6 949.2,1565.5C950.9,1566.4 952.6,1567.8 954.2,1568.8C955.9,1569.7 957.6,1571.2 959.2,1571.2C960.9,1571.2 962.6,1570.1 964.2,1569.5"/>
<path class="c" clip-path="url(#cb2)" stroke="#c9181c" stroke-width="1.5" d="M964.2,1569.5C965.9,1567.6 967.6,1565.7 969.2,1563.8C970.5,1562.3 971.8,1559.6 973.0,1559.2C974.0,1559.0 975.0,1558.8 976.0,1558.8C977.5,1558.8 979.0,1560.9 980.5,1561.2C982.2,1561.6 983.8,1561.7 985.5,1562.0C987.2,1562.3 988.8,1562.5 990.5,1563.0C992.2,1563.5 993.8,1564.9 995.5,1566.2C997.2,1567.6 998.8,1571.2 1000.5,1571.2C1002.2,1571.2 1003.8,1571.2 1005.5,1571.2C1008.0,1571.2 1010.5,1571.2 1013.0,1571.2C1014.2,1571.2 1015.5,1568.2 1016.8,1566.2C1018.0,1564.2 1019.2,1561.0 1020.5,1558.8C1021.8,1556.5 1023.0,1553.3 1024.2,1552.5C1025.3,1551.8 1026.4,1551.2 1027.5,1551.2C1028.5,1551.2 1029.5,1553.1 1030.5,1554.5C1031.8,1556.3 1033.0,1560.2 1034.2,1562.5C1035.5,1564.8 1036.8,1567.6 1038.0,1568.8C1039.2,1569.9 1040.5,1571.2 1041.8,1571.2C1043.0,1571.2 1044.2,1567.9 1045.5,1566.2C1047.2,1564.1 1048.8,1561.9 1050.5,1560.0C1052.2,1558.1 1053.8,1555.6 1055.5,1555.0C1057.6,1554.3 1059.7,1554.2 1061.8,1553.8C1063.8,1553.3 1065.9,1552.0 1068.0,1552.0C1069.7,1552.0 1071.3,1552.0 1073.0,1552.0C1074.2,1552.0 1075.5,1554.6 1076.8,1556.2C1078.0,1557.9 1079.2,1560.9 1080.5,1562.5C1082.2,1564.6 1083.8,1566.1 1085.5,1567.5C1087.2,1568.9 1088.8,1571.2 1090.5,1571.2C1093.0,1571.2 1095.5,1571.2 1098.0,1571.2C1116.3,1571.2 1134.7,1571.2 1153.0,1571.2"/>
<rect x="349.5" y="971.3" width="1019.0" height="599.8" fill="none" stroke="#505050" stroke-width="1.8"/>
<text class="bt" x="347.0" y="1597.8" textLength="39.6">200</text>
<text class="bt" x="456.1" y="1597.8" textLength="38.4">600</text>
<text class="bt" x="573.9" y="1597.8" textLength="51.4">1000</text>
<text class="bt" x="696.3" y="1597.8" textLength="52.1">1400</text>
<text class="bt" x="823.2" y="1597.8" textLength="49.1">1800</text>
<text class="bt" x="944.1" y="1597.8" textLength="52.0">2200</text>
<text class="bt" x="1068.6" y="1597.8" textLength="51.9">2600</text>
<text class="bt" x="1191.8" y="1597.8" textLength="52.5">3000</text>
<text class="bt" x="1314.0" y="1597.8" textLength="52.8">3200</text>
<text class="pk" style="font-size:15.8px" x="367.5" y="1013.6">240 Ma</text>
<text class="pk" style="font-size:15.8px" x="876.3" y="995.3">1900 Ma</text>
<text class="pk" style="font-size:15.8px" x="360.3" y="1261.6">280 Ma</text>
<text class="pk" style="font-size:15.8px" x="879.5" y="1192.3">1900 Ma</text>
<text class="pk" style="font-size:15.8px" x="354.5" y="1460.8">240 Ma</text>
<text class="bl" x="1234.2" y="998.0" textLength="132.1">XQS QLG2</text>
<text class="bl" x="1234.2" y="1026.3" textLength="60.1">n=70</text>
<text class="bl" x="1251.2" y="1197.5" textLength="112.3">GS GJG3</text>
<text class="bl" x="1251.2" y="1225.5" textLength="60.1">n=70</text>
<text class="bl" x="1250.5" y="1396.8" textLength="113.1">GS DZG4</text>
<text class="bl" x="1250.5" y="1425.0" textLength="60.1">n=70</text>
<text class="ax" x="783.8" y="1626.4" textLength="118.6">Age(Ma)</text>
</g>
</svg>
</body></html>
